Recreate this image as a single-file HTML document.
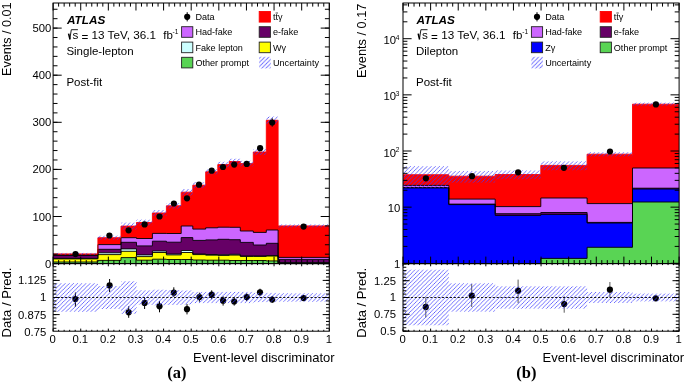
<!DOCTYPE html>
<html><head><meta charset="utf-8"><style>
html,body{margin:0;padding:0;background:#fff;}
svg{display:block;will-change:transform;}
</style></head><body>
<svg width="685" height="382" viewBox="0 0 685 382">
<defs>
<pattern id="hatch" patternUnits="userSpaceOnUse" width="4.15" height="4.15"><path d="M-1,1 L1,-1 M0,4.15 L4.15,0 M3.150,5.150 L5.150,3.150" stroke="#3a3aff" stroke-width="0.8" stroke-opacity="0.9"/></pattern>
<pattern id="hatchLeg" patternUnits="userSpaceOnUse" x="2.2" y="0" width="4.15" height="4.15"><path d="M-1,1 L1,-1 M0,4.15 L4.15,0 M3.150,5.150 L5.150,3.150" stroke="#3a3aff" stroke-width="0.85" stroke-opacity="0.8"/></pattern>
</defs>
<rect width="685" height="382" fill="#fff"/>
<path d="M53.10,263.6 L53.10,253.90 L97.90,253.90 L97.90,237.70 L121.00,237.70 L121.00,226.10 L136.50,226.10 L136.50,222.50 L152.40,222.50 L152.40,213.00 L166.40,213.00 L166.40,205.80 L181.20,205.80 L181.20,192.20 L192.80,192.20 L192.80,185.20 L205.70,185.20 L205.70,171.80 L217.80,171.80 L217.80,164.60 L229.30,164.60 L229.30,161.50 L240.30,161.50 L240.30,163.60 L253.30,163.60 L253.30,152.00 L266.30,152.00 L266.30,120.30 L278.10,120.30 L278.10,225.90 L329.30,225.90 L329.30,263.6 Z" fill="#ff0000" stroke="none"/>
<path d="M53.10,263.6 L53.10,255.20 L97.90,255.20 L97.90,244.60 L121.00,244.60 L121.00,237.70 L136.50,237.70 L136.50,238.50 L152.40,238.50 L152.40,233.40 L166.40,233.40 L166.40,233.50 L181.20,233.50 L181.20,226.00 L192.80,226.00 L192.80,229.10 L205.70,229.10 L205.70,227.80 L217.80,227.80 L217.80,227.20 L229.30,227.20 L229.30,227.30 L240.30,227.30 L240.30,231.00 L253.30,231.00 L253.30,232.40 L266.30,232.40 L266.30,230.00 L278.10,230.00 L278.10,257.40 L329.30,257.40 L329.30,263.6 Z" fill="#cc66ff" stroke="none"/>
<path d="M53.10,263.6 L53.10,255.30 L97.90,255.30 L97.90,249.30 L121.00,249.30 L121.00,242.30 L136.50,242.30 L136.50,245.90 L152.40,245.90 L152.40,241.20 L166.40,241.20 L166.40,242.20 L181.20,242.20 L181.20,237.60 L192.80,237.60 L192.80,240.40 L205.70,240.40 L205.70,239.90 L217.80,239.90 L217.80,239.30 L229.30,239.30 L229.30,239.70 L240.30,239.70 L240.30,242.40 L253.30,242.40 L253.30,245.00 L266.30,245.00 L266.30,243.30 L278.10,243.30 L278.10,259.40 L329.30,259.40 L329.30,263.6 Z" fill="#660066" stroke="none"/>
<path d="M53.10,263.6 L53.10,258.40 L97.90,258.40 L97.90,252.80 L121.00,252.80 L121.00,248.90 L136.50,248.90 L136.50,254.90 L152.40,254.90 L152.40,251.00 L166.40,251.00 L166.40,254.00 L181.20,254.00 L181.20,250.50 L192.80,250.50 L192.80,254.00 L205.70,254.00 L205.70,254.50 L217.80,254.50 L217.80,254.80 L229.30,254.80 L229.30,254.30 L240.30,254.30 L240.30,256.00 L253.30,256.00 L253.30,256.00 L266.30,256.00 L266.30,255.60 L278.10,255.60 L278.10,262.60 L329.30,262.60 L329.30,263.6 Z" fill="#ccffff" stroke="none"/>
<path d="M53.10,263.6 L53.10,258.90 L97.90,258.90 L97.90,254.60 L121.00,254.60 L121.00,251.30 L136.50,251.30 L136.50,256.60 L152.40,256.60 L152.40,252.50 L166.40,252.50 L166.40,254.90 L181.20,254.90 L181.20,252.50 L192.80,252.50 L192.80,254.60 L205.70,254.60 L205.70,255.20 L217.80,255.20 L217.80,255.40 L229.30,255.40 L229.30,255.10 L240.30,255.10 L240.30,256.40 L253.30,256.40 L253.30,256.40 L266.30,256.40 L266.30,256.00 L278.10,256.00 L278.10,263.00 L329.30,263.00 L329.30,263.6 Z" fill="#ffff00" stroke="none"/>
<path d="M53.10,263.6 L53.10,262.00 L97.90,262.00 L97.90,260.40 L121.00,260.40 L121.00,257.60 L136.50,257.60 L136.50,260.20 L152.40,260.20 L152.40,259.20 L166.40,259.20 L166.40,259.50 L181.20,259.50 L181.20,259.50 L192.80,259.50 L192.80,260.00 L205.70,260.00 L205.70,260.20 L217.80,260.20 L217.80,260.20 L229.30,260.20 L229.30,260.50 L240.30,260.50 L240.30,260.50 L253.30,260.50 L253.30,260.50 L266.30,260.50 L266.30,260.90 L278.10,260.90 L278.10,263.60 L329.30,263.60 L329.30,263.6 Z" fill="#59d454" stroke="none"/>
<path d="M53.10,262.00 L97.90,262.00 L97.90,260.40 L121.00,260.40 L121.00,257.60 L136.50,257.60 L136.50,260.20 L152.40,260.20 L152.40,259.20 L166.40,259.20 L166.40,259.50 L181.20,259.50 L181.20,259.50 L192.80,259.50 L192.80,260.00 L205.70,260.00 L205.70,260.20 L217.80,260.20 L217.80,260.20 L229.30,260.20 L229.30,260.50 L240.30,260.50 L240.30,260.50 L253.30,260.50 L253.30,260.50 L266.30,260.50 L266.30,260.90 L278.10,260.90 L278.10,263.60 L329.30,263.60" fill="none" stroke="#000" stroke-width="0.9"/>
<path d="M53.10,258.90 L97.90,258.90 L97.90,254.60 L121.00,254.60 L121.00,251.30 L136.50,251.30 L136.50,256.60 L152.40,256.60 L152.40,252.50 L166.40,252.50 L166.40,254.90 L181.20,254.90 L181.20,252.50 L192.80,252.50 L192.80,254.60 L205.70,254.60 L205.70,255.20 L217.80,255.20 L217.80,255.40 L229.30,255.40 L229.30,255.10 L240.30,255.10 L240.30,256.40 L253.30,256.40 L253.30,256.40 L266.30,256.40 L266.30,256.00 L278.10,256.00 L278.10,263.00 L329.30,263.00" fill="none" stroke="#000" stroke-width="0.9"/>
<path d="M53.10,258.40 L97.90,258.40 L97.90,252.80 L121.00,252.80 L121.00,248.90 L136.50,248.90 L136.50,254.90 L152.40,254.90 L152.40,251.00 L166.40,251.00 L166.40,254.00 L181.20,254.00 L181.20,250.50 L192.80,250.50 L192.80,254.00 L205.70,254.00 L205.70,254.50 L217.80,254.50 L217.80,254.80 L229.30,254.80 L229.30,254.30 L240.30,254.30 L240.30,256.00 L253.30,256.00 L253.30,256.00 L266.30,256.00 L266.30,255.60 L278.10,255.60 L278.10,262.60 L329.30,262.60" fill="none" stroke="#000" stroke-width="0.9"/>
<path d="M53.10,255.30 L97.90,255.30 L97.90,249.30 L121.00,249.30 L121.00,242.30 L136.50,242.30 L136.50,245.90 L152.40,245.90 L152.40,241.20 L166.40,241.20 L166.40,242.20 L181.20,242.20 L181.20,237.60 L192.80,237.60 L192.80,240.40 L205.70,240.40 L205.70,239.90 L217.80,239.90 L217.80,239.30 L229.30,239.30 L229.30,239.70 L240.30,239.70 L240.30,242.40 L253.30,242.40 L253.30,245.00 L266.30,245.00 L266.30,243.30 L278.10,243.30 L278.10,259.40 L329.30,259.40" fill="none" stroke="#000" stroke-width="0.9"/>
<path d="M53.10,255.20 L97.90,255.20 L97.90,244.60 L121.00,244.60 L121.00,237.70 L136.50,237.70 L136.50,238.50 L152.40,238.50 L152.40,233.40 L166.40,233.40 L166.40,233.50 L181.20,233.50 L181.20,226.00 L192.80,226.00 L192.80,229.10 L205.70,229.10 L205.70,227.80 L217.80,227.80 L217.80,227.20 L229.30,227.20 L229.30,227.30 L240.30,227.30 L240.30,231.00 L253.30,231.00 L253.30,232.40 L266.30,232.40 L266.30,230.00 L278.10,230.00 L278.10,257.40 L329.30,257.40" fill="none" stroke="#000" stroke-width="0.9"/>
<path d="M53.10,253.90 L97.90,253.90 L97.90,237.70 L121.00,237.70 L121.00,226.10 L136.50,226.10 L136.50,222.50 L152.40,222.50 L152.40,213.00 L166.40,213.00 L166.40,205.80 L181.20,205.80 L181.20,192.20 L192.80,192.20 L192.80,185.20 L205.70,185.20 L205.70,171.80 L217.80,171.80 L217.80,164.60 L229.30,164.60 L229.30,161.50 L240.30,161.50 L240.30,163.60 L253.30,163.60 L253.30,152.00 L266.30,152.00 L266.30,120.30 L278.10,120.30 L278.10,225.90 L329.30,225.90" fill="none" stroke="#ff0000" stroke-width="0.9"/>
<rect x="53.10" y="252.90" width="44.80" height="2.00" fill="url(#hatch)"/>
<rect x="97.90" y="235.70" width="23.10" height="4.00" fill="url(#hatch)"/>
<rect x="121.00" y="222.60" width="15.50" height="7.00" fill="url(#hatch)"/>
<rect x="136.50" y="219.70" width="15.90" height="5.60" fill="url(#hatch)"/>
<rect x="152.40" y="210.00" width="14.00" height="6.00" fill="url(#hatch)"/>
<rect x="166.40" y="203.00" width="14.80" height="5.60" fill="url(#hatch)"/>
<rect x="181.20" y="189.00" width="11.60" height="6.40" fill="url(#hatch)"/>
<rect x="192.80" y="182.20" width="12.90" height="6.00" fill="url(#hatch)"/>
<rect x="205.70" y="169.30" width="12.10" height="5.00" fill="url(#hatch)"/>
<rect x="217.80" y="161.80" width="11.50" height="5.60" fill="url(#hatch)"/>
<rect x="229.30" y="158.70" width="11.00" height="5.60" fill="url(#hatch)"/>
<rect x="240.30" y="160.80" width="13.00" height="5.60" fill="url(#hatch)"/>
<rect x="253.30" y="149.00" width="13.00" height="6.00" fill="url(#hatch)"/>
<rect x="266.30" y="116.60" width="11.80" height="7.40" fill="url(#hatch)"/>
<rect x="278.10" y="224.40" width="51.20" height="3.00" fill="url(#hatch)"/>
<circle cx="75.50" cy="254.10" r="3.1" fill="#000"/>
<circle cx="109.40" cy="235.50" r="3.1" fill="#000"/>
<circle cx="128.60" cy="230.30" r="3.1" fill="#000"/>
<circle cx="144.60" cy="224.40" r="3.1" fill="#000"/>
<circle cx="159.50" cy="216.50" r="3.1" fill="#000"/>
<circle cx="173.90" cy="203.50" r="3.1" fill="#000"/>
<circle cx="187.00" cy="198.30" r="3.1" fill="#000"/>
<circle cx="199.00" cy="184.70" r="3.1" fill="#000"/>
<circle cx="211.70" cy="170.70" r="3.1" fill="#000"/>
<circle cx="223.00" cy="167.00" r="3.1" fill="#000"/>
<circle cx="234.20" cy="164.60" r="3.1" fill="#000"/>
<circle cx="246.70" cy="163.90" r="3.1" fill="#000"/>
<circle cx="260.10" cy="148.20" r="3.1" fill="#000"/>
<line x1="272.20" y1="118.30" x2="272.20" y2="126.70" stroke="#000" stroke-width="1" />
<circle cx="272.20" cy="122.50" r="3.1" fill="#000"/>
<circle cx="303.60" cy="226.60" r="3.1" fill="#000"/>
<line x1="75.40" y1="292.50" x2="75.40" y2="306.80" stroke="#000" stroke-width="1" />
<circle cx="75.40" cy="299.10" r="3.1" fill="#000"/>
<line x1="109.60" y1="279.00" x2="109.60" y2="292.00" stroke="#000" stroke-width="1" />
<circle cx="109.60" cy="285.40" r="3.1" fill="#000"/>
<line x1="128.70" y1="306.30" x2="128.70" y2="317.80" stroke="#000" stroke-width="1" />
<circle cx="128.70" cy="312.30" r="3.1" fill="#000"/>
<line x1="144.60" y1="298.10" x2="144.60" y2="309.00" stroke="#000" stroke-width="1" />
<circle cx="144.60" cy="302.90" r="3.1" fill="#000"/>
<line x1="159.50" y1="301.10" x2="159.50" y2="312.30" stroke="#000" stroke-width="1" />
<circle cx="159.50" cy="306.30" r="3.1" fill="#000"/>
<line x1="173.80" y1="287.30" x2="173.80" y2="296.90" stroke="#000" stroke-width="1" />
<circle cx="173.80" cy="292.70" r="3.1" fill="#000"/>
<line x1="187.00" y1="304.10" x2="187.00" y2="314.40" stroke="#000" stroke-width="1" />
<circle cx="187.00" cy="309.20" r="3.1" fill="#000"/>
<line x1="199.40" y1="292.70" x2="199.40" y2="301.70" stroke="#000" stroke-width="1" />
<circle cx="199.40" cy="297.10" r="3.1" fill="#000"/>
<line x1="211.70" y1="290.30" x2="211.70" y2="299.30" stroke="#000" stroke-width="1" />
<circle cx="211.70" cy="294.70" r="3.1" fill="#000"/>
<line x1="223.10" y1="296.30" x2="223.10" y2="305.60" stroke="#000" stroke-width="1" />
<circle cx="223.10" cy="300.70" r="3.1" fill="#000"/>
<line x1="234.20" y1="297.50" x2="234.20" y2="305.60" stroke="#000" stroke-width="1" />
<circle cx="234.20" cy="301.50" r="3.1" fill="#000"/>
<line x1="246.70" y1="293.30" x2="246.70" y2="301.10" stroke="#000" stroke-width="1" />
<circle cx="246.70" cy="297.10" r="3.1" fill="#000"/>
<line x1="260.00" y1="288.70" x2="260.00" y2="295.70" stroke="#000" stroke-width="1" />
<circle cx="260.00" cy="292.30" r="3.1" fill="#000"/>
<line x1="272.20" y1="296.00" x2="272.20" y2="303.00" stroke="#000" stroke-width="1" />
<circle cx="272.20" cy="299.50" r="3.1" fill="#000"/>
<line x1="303.60" y1="295.50" x2="303.60" y2="300.50" stroke="#000" stroke-width="1" />
<circle cx="303.60" cy="298.10" r="3.1" fill="#000"/>
<rect x="53.10" y="283.20" width="44.80" height="28.60" fill="url(#hatch)"/>
<rect x="97.90" y="286.00" width="23.10" height="23.00" fill="url(#hatch)"/>
<rect x="121.00" y="281.20" width="15.50" height="32.60" fill="url(#hatch)"/>
<rect x="136.50" y="290.30" width="15.90" height="14.40" fill="url(#hatch)"/>
<rect x="152.40" y="289.70" width="14.00" height="15.60" fill="url(#hatch)"/>
<rect x="166.40" y="290.00" width="14.80" height="15.00" fill="url(#hatch)"/>
<rect x="181.20" y="290.50" width="11.60" height="14.00" fill="url(#hatch)"/>
<rect x="192.80" y="291.90" width="12.90" height="11.20" fill="url(#hatch)"/>
<rect x="205.70" y="291.90" width="12.10" height="11.20" fill="url(#hatch)"/>
<rect x="217.80" y="291.90" width="11.50" height="11.20" fill="url(#hatch)"/>
<rect x="229.30" y="291.90" width="11.00" height="11.20" fill="url(#hatch)"/>
<rect x="240.30" y="291.90" width="13.00" height="11.20" fill="url(#hatch)"/>
<rect x="253.30" y="292.90" width="13.00" height="9.20" fill="url(#hatch)"/>
<rect x="266.30" y="292.90" width="11.80" height="9.20" fill="url(#hatch)"/>
<rect x="278.10" y="293.30" width="51.20" height="8.40" fill="url(#hatch)"/>
<line x1="53.10" y1="297.50" x2="329.30" y2="297.50" stroke="#000" stroke-width="0.9" stroke-dasharray="2.2,1.7"/>
<path d="M403.00,263.6 L403.00,174.70 L448.80,174.70 L448.80,176.20 L495.20,176.20 L495.20,174.50 L540.80,174.50 L540.80,165.40 L587.10,165.40 L587.10,154.20 L632.50,154.20 L632.50,104.20 L679.10,104.20 L679.10,263.6 Z" fill="#ff0000" stroke="none"/>
<path d="M403.00,263.6 L403.00,185.40 L448.80,185.40 L448.80,199.10 L495.20,199.10 L495.20,206.60 L540.80,206.60 L540.80,198.00 L587.10,198.00 L587.10,203.60 L632.50,203.60 L632.50,168.00 L679.10,168.00 L679.10,263.6 Z" fill="#cc66ff" stroke="none"/>
<path d="M403.00,263.6 L403.00,187.60 L448.80,187.60 L448.80,204.10 L495.20,204.10 L495.20,213.70 L540.80,213.70 L540.80,212.50 L587.10,212.50 L587.10,222.40 L632.50,222.40 L632.50,188.20 L679.10,188.20 L679.10,263.6 Z" fill="#660066" stroke="none"/>
<path d="M403.00,263.6 L403.00,187.90 L448.80,187.90 L448.80,204.60 L495.20,204.60 L495.20,215.40 L540.80,215.40 L540.80,214.40 L587.10,214.40 L587.10,223.00 L632.50,223.00 L632.50,189.00 L679.10,189.00 L679.10,263.6 Z" fill="#0000ff" stroke="none"/>
<path d="M403.00,263.6 L403.00,263.60 L448.80,263.60 L448.80,263.60 L495.20,263.60 L495.20,263.60 L540.80,263.60 L540.80,258.40 L587.10,258.40 L587.10,247.30 L632.50,247.30 L632.50,202.00 L679.10,202.00 L679.10,263.6 Z" fill="#59d454" stroke="none"/>
<path d="M403.00,263.60 L448.80,263.60 L448.80,263.60 L495.20,263.60 L495.20,263.60 L540.80,263.60 L540.80,258.40 L587.10,258.40 L587.10,247.30 L632.50,247.30 L632.50,202.00 L679.10,202.00" fill="none" stroke="#000" stroke-width="0.9"/>
<path d="M403.00,187.90 L448.80,187.90 L448.80,204.60 L495.20,204.60 L495.20,215.40 L540.80,215.40 L540.80,214.40 L587.10,214.40 L587.10,223.00 L632.50,223.00 L632.50,189.00 L679.10,189.00" fill="none" stroke="#000" stroke-width="0.9"/>
<path d="M403.00,187.60 L448.80,187.60 L448.80,204.10 L495.20,204.10 L495.20,213.70 L540.80,213.70 L540.80,212.50 L587.10,212.50 L587.10,222.40 L632.50,222.40 L632.50,188.20 L679.10,188.20" fill="none" stroke="#000" stroke-width="0.9"/>
<path d="M403.00,185.40 L448.80,185.40 L448.80,199.10 L495.20,199.10 L495.20,206.60 L540.80,206.60 L540.80,198.00 L587.10,198.00 L587.10,203.60 L632.50,203.60 L632.50,168.00 L679.10,168.00" fill="none" stroke="#000" stroke-width="0.9"/>
<path d="M403.00,174.70 L448.80,174.70 L448.80,176.20 L495.20,176.20 L495.20,174.50 L540.80,174.50 L540.80,165.40 L587.10,165.40 L587.10,154.20 L632.50,154.20 L632.50,104.20 L679.10,104.20" fill="none" stroke="#ff0000" stroke-width="0.9"/>
<rect x="403.00" y="166.20" width="45.80" height="21.66" fill="url(#hatch)"/>
<rect x="448.80" y="171.10" width="46.40" height="11.56" fill="url(#hatch)"/>
<rect x="495.20" y="170.50" width="45.60" height="8.79" fill="url(#hatch)"/>
<rect x="540.80" y="161.40" width="46.30" height="8.79" fill="url(#hatch)"/>
<rect x="587.10" y="152.20" width="45.40" height="4.18" fill="url(#hatch)"/>
<rect x="632.50" y="102.70" width="46.60" height="3.10" fill="url(#hatch)"/>
<circle cx="425.90" cy="178.30" r="3.1" fill="#000"/>
<circle cx="472.00" cy="176.20" r="3.1" fill="#000"/>
<circle cx="518.10" cy="172.30" r="3.1" fill="#000"/>
<circle cx="563.90" cy="167.80" r="3.1" fill="#000"/>
<circle cx="610.00" cy="151.50" r="3.1" fill="#000"/>
<circle cx="655.90" cy="104.40" r="3.1" fill="#000"/>
<line x1="425.80" y1="297.40" x2="425.80" y2="317.40" stroke="#5a5a5a" stroke-width="1" />
<line x1="471.70" y1="284.00" x2="471.70" y2="307.00" stroke="#5a5a5a" stroke-width="1" />
<line x1="518.10" y1="279.60" x2="518.10" y2="303.10" stroke="#5a5a5a" stroke-width="1" />
<line x1="564.20" y1="296.40" x2="564.20" y2="312.70" stroke="#5a5a5a" stroke-width="1" />
<line x1="609.90" y1="282.00" x2="609.90" y2="297.40" stroke="#5a5a5a" stroke-width="1" />
<line x1="655.70" y1="296.00" x2="655.70" y2="300.50" stroke="#5a5a5a" stroke-width="1" />
<circle cx="425.80" cy="306.90" r="3.1" fill="#000"/>
<circle cx="471.70" cy="295.50" r="3.1" fill="#000"/>
<circle cx="518.10" cy="290.70" r="3.1" fill="#000"/>
<circle cx="564.20" cy="304.10" r="3.1" fill="#000"/>
<circle cx="609.90" cy="289.70" r="3.1" fill="#000"/>
<circle cx="655.70" cy="298.30" r="3.1" fill="#000"/>
<rect x="403.00" y="269.70" width="45.80" height="55.60" fill="url(#hatch)"/>
<rect x="448.80" y="283.30" width="46.40" height="28.40" fill="url(#hatch)"/>
<rect x="495.20" y="286.30" width="45.60" height="22.40" fill="url(#hatch)"/>
<rect x="540.80" y="286.30" width="46.30" height="22.40" fill="url(#hatch)"/>
<rect x="587.10" y="292.00" width="45.40" height="11.00" fill="url(#hatch)"/>
<rect x="632.50" y="293.60" width="46.60" height="7.80" fill="url(#hatch)"/>
<line x1="403.00" y1="297.50" x2="679.10" y2="297.50" stroke="#000" stroke-width="0.9" stroke-dasharray="2.2,1.7"/>
<rect x="53.1" y="3.0" width="276.20" height="260.60" fill="none" stroke="#000" stroke-width="1"/>
<rect x="53.1" y="263.6" width="276.20" height="67.60" fill="none" stroke="#000" stroke-width="1"/>
<line x1="53.10" y1="3.00" x2="53.10" y2="10.50" stroke="#000" stroke-width="1" />
<line x1="53.10" y1="263.60" x2="53.10" y2="256.60" stroke="#000" stroke-width="1" />
<line x1="53.10" y1="263.60" x2="53.10" y2="266.30" stroke="#000" stroke-width="1" />
<line x1="53.10" y1="331.20" x2="53.10" y2="328.60" stroke="#000" stroke-width="1" />
<line x1="58.62" y1="3.00" x2="58.62" y2="6.60" stroke="#000" stroke-width="1" />
<line x1="58.62" y1="263.60" x2="58.62" y2="260.10" stroke="#000" stroke-width="1" />
<line x1="58.62" y1="263.60" x2="58.62" y2="265.10" stroke="#000" stroke-width="1" />
<line x1="58.62" y1="331.20" x2="58.62" y2="329.80" stroke="#000" stroke-width="1" />
<line x1="64.15" y1="3.00" x2="64.15" y2="6.60" stroke="#000" stroke-width="1" />
<line x1="64.15" y1="263.60" x2="64.15" y2="260.10" stroke="#000" stroke-width="1" />
<line x1="64.15" y1="263.60" x2="64.15" y2="265.10" stroke="#000" stroke-width="1" />
<line x1="64.15" y1="331.20" x2="64.15" y2="329.80" stroke="#000" stroke-width="1" />
<line x1="69.67" y1="3.00" x2="69.67" y2="6.60" stroke="#000" stroke-width="1" />
<line x1="69.67" y1="263.60" x2="69.67" y2="260.10" stroke="#000" stroke-width="1" />
<line x1="69.67" y1="263.60" x2="69.67" y2="265.10" stroke="#000" stroke-width="1" />
<line x1="69.67" y1="331.20" x2="69.67" y2="329.80" stroke="#000" stroke-width="1" />
<line x1="75.20" y1="3.00" x2="75.20" y2="6.60" stroke="#000" stroke-width="1" />
<line x1="75.20" y1="263.60" x2="75.20" y2="260.10" stroke="#000" stroke-width="1" />
<line x1="75.20" y1="263.60" x2="75.20" y2="265.10" stroke="#000" stroke-width="1" />
<line x1="75.20" y1="331.20" x2="75.20" y2="329.80" stroke="#000" stroke-width="1" />
<line x1="80.72" y1="3.00" x2="80.72" y2="10.50" stroke="#000" stroke-width="1" />
<line x1="80.72" y1="263.60" x2="80.72" y2="256.60" stroke="#000" stroke-width="1" />
<line x1="80.72" y1="263.60" x2="80.72" y2="266.30" stroke="#000" stroke-width="1" />
<line x1="80.72" y1="331.20" x2="80.72" y2="328.60" stroke="#000" stroke-width="1" />
<line x1="86.24" y1="3.00" x2="86.24" y2="6.60" stroke="#000" stroke-width="1" />
<line x1="86.24" y1="263.60" x2="86.24" y2="260.10" stroke="#000" stroke-width="1" />
<line x1="86.24" y1="263.60" x2="86.24" y2="265.10" stroke="#000" stroke-width="1" />
<line x1="86.24" y1="331.20" x2="86.24" y2="329.80" stroke="#000" stroke-width="1" />
<line x1="91.77" y1="3.00" x2="91.77" y2="6.60" stroke="#000" stroke-width="1" />
<line x1="91.77" y1="263.60" x2="91.77" y2="260.10" stroke="#000" stroke-width="1" />
<line x1="91.77" y1="263.60" x2="91.77" y2="265.10" stroke="#000" stroke-width="1" />
<line x1="91.77" y1="331.20" x2="91.77" y2="329.80" stroke="#000" stroke-width="1" />
<line x1="97.29" y1="3.00" x2="97.29" y2="6.60" stroke="#000" stroke-width="1" />
<line x1="97.29" y1="263.60" x2="97.29" y2="260.10" stroke="#000" stroke-width="1" />
<line x1="97.29" y1="263.60" x2="97.29" y2="265.10" stroke="#000" stroke-width="1" />
<line x1="97.29" y1="331.20" x2="97.29" y2="329.80" stroke="#000" stroke-width="1" />
<line x1="102.82" y1="3.00" x2="102.82" y2="6.60" stroke="#000" stroke-width="1" />
<line x1="102.82" y1="263.60" x2="102.82" y2="260.10" stroke="#000" stroke-width="1" />
<line x1="102.82" y1="263.60" x2="102.82" y2="265.10" stroke="#000" stroke-width="1" />
<line x1="102.82" y1="331.20" x2="102.82" y2="329.80" stroke="#000" stroke-width="1" />
<line x1="108.34" y1="3.00" x2="108.34" y2="10.50" stroke="#000" stroke-width="1" />
<line x1="108.34" y1="263.60" x2="108.34" y2="256.60" stroke="#000" stroke-width="1" />
<line x1="108.34" y1="263.60" x2="108.34" y2="266.30" stroke="#000" stroke-width="1" />
<line x1="108.34" y1="331.20" x2="108.34" y2="328.60" stroke="#000" stroke-width="1" />
<line x1="113.86" y1="3.00" x2="113.86" y2="6.60" stroke="#000" stroke-width="1" />
<line x1="113.86" y1="263.60" x2="113.86" y2="260.10" stroke="#000" stroke-width="1" />
<line x1="113.86" y1="263.60" x2="113.86" y2="265.10" stroke="#000" stroke-width="1" />
<line x1="113.86" y1="331.20" x2="113.86" y2="329.80" stroke="#000" stroke-width="1" />
<line x1="119.39" y1="3.00" x2="119.39" y2="6.60" stroke="#000" stroke-width="1" />
<line x1="119.39" y1="263.60" x2="119.39" y2="260.10" stroke="#000" stroke-width="1" />
<line x1="119.39" y1="263.60" x2="119.39" y2="265.10" stroke="#000" stroke-width="1" />
<line x1="119.39" y1="331.20" x2="119.39" y2="329.80" stroke="#000" stroke-width="1" />
<line x1="124.91" y1="3.00" x2="124.91" y2="6.60" stroke="#000" stroke-width="1" />
<line x1="124.91" y1="263.60" x2="124.91" y2="260.10" stroke="#000" stroke-width="1" />
<line x1="124.91" y1="263.60" x2="124.91" y2="265.10" stroke="#000" stroke-width="1" />
<line x1="124.91" y1="331.20" x2="124.91" y2="329.80" stroke="#000" stroke-width="1" />
<line x1="130.44" y1="3.00" x2="130.44" y2="6.60" stroke="#000" stroke-width="1" />
<line x1="130.44" y1="263.60" x2="130.44" y2="260.10" stroke="#000" stroke-width="1" />
<line x1="130.44" y1="263.60" x2="130.44" y2="265.10" stroke="#000" stroke-width="1" />
<line x1="130.44" y1="331.20" x2="130.44" y2="329.80" stroke="#000" stroke-width="1" />
<line x1="135.96" y1="3.00" x2="135.96" y2="10.50" stroke="#000" stroke-width="1" />
<line x1="135.96" y1="263.60" x2="135.96" y2="256.60" stroke="#000" stroke-width="1" />
<line x1="135.96" y1="263.60" x2="135.96" y2="266.30" stroke="#000" stroke-width="1" />
<line x1="135.96" y1="331.20" x2="135.96" y2="328.60" stroke="#000" stroke-width="1" />
<line x1="141.48" y1="3.00" x2="141.48" y2="6.60" stroke="#000" stroke-width="1" />
<line x1="141.48" y1="263.60" x2="141.48" y2="260.10" stroke="#000" stroke-width="1" />
<line x1="141.48" y1="263.60" x2="141.48" y2="265.10" stroke="#000" stroke-width="1" />
<line x1="141.48" y1="331.20" x2="141.48" y2="329.80" stroke="#000" stroke-width="1" />
<line x1="147.01" y1="3.00" x2="147.01" y2="6.60" stroke="#000" stroke-width="1" />
<line x1="147.01" y1="263.60" x2="147.01" y2="260.10" stroke="#000" stroke-width="1" />
<line x1="147.01" y1="263.60" x2="147.01" y2="265.10" stroke="#000" stroke-width="1" />
<line x1="147.01" y1="331.20" x2="147.01" y2="329.80" stroke="#000" stroke-width="1" />
<line x1="152.53" y1="3.00" x2="152.53" y2="6.60" stroke="#000" stroke-width="1" />
<line x1="152.53" y1="263.60" x2="152.53" y2="260.10" stroke="#000" stroke-width="1" />
<line x1="152.53" y1="263.60" x2="152.53" y2="265.10" stroke="#000" stroke-width="1" />
<line x1="152.53" y1="331.20" x2="152.53" y2="329.80" stroke="#000" stroke-width="1" />
<line x1="158.06" y1="3.00" x2="158.06" y2="6.60" stroke="#000" stroke-width="1" />
<line x1="158.06" y1="263.60" x2="158.06" y2="260.10" stroke="#000" stroke-width="1" />
<line x1="158.06" y1="263.60" x2="158.06" y2="265.10" stroke="#000" stroke-width="1" />
<line x1="158.06" y1="331.20" x2="158.06" y2="329.80" stroke="#000" stroke-width="1" />
<line x1="163.58" y1="3.00" x2="163.58" y2="10.50" stroke="#000" stroke-width="1" />
<line x1="163.58" y1="263.60" x2="163.58" y2="256.60" stroke="#000" stroke-width="1" />
<line x1="163.58" y1="263.60" x2="163.58" y2="266.30" stroke="#000" stroke-width="1" />
<line x1="163.58" y1="331.20" x2="163.58" y2="328.60" stroke="#000" stroke-width="1" />
<line x1="169.10" y1="3.00" x2="169.10" y2="6.60" stroke="#000" stroke-width="1" />
<line x1="169.10" y1="263.60" x2="169.10" y2="260.10" stroke="#000" stroke-width="1" />
<line x1="169.10" y1="263.60" x2="169.10" y2="265.10" stroke="#000" stroke-width="1" />
<line x1="169.10" y1="331.20" x2="169.10" y2="329.80" stroke="#000" stroke-width="1" />
<line x1="174.63" y1="3.00" x2="174.63" y2="6.60" stroke="#000" stroke-width="1" />
<line x1="174.63" y1="263.60" x2="174.63" y2="260.10" stroke="#000" stroke-width="1" />
<line x1="174.63" y1="263.60" x2="174.63" y2="265.10" stroke="#000" stroke-width="1" />
<line x1="174.63" y1="331.20" x2="174.63" y2="329.80" stroke="#000" stroke-width="1" />
<line x1="180.15" y1="3.00" x2="180.15" y2="6.60" stroke="#000" stroke-width="1" />
<line x1="180.15" y1="263.60" x2="180.15" y2="260.10" stroke="#000" stroke-width="1" />
<line x1="180.15" y1="263.60" x2="180.15" y2="265.10" stroke="#000" stroke-width="1" />
<line x1="180.15" y1="331.20" x2="180.15" y2="329.80" stroke="#000" stroke-width="1" />
<line x1="185.68" y1="3.00" x2="185.68" y2="6.60" stroke="#000" stroke-width="1" />
<line x1="185.68" y1="263.60" x2="185.68" y2="260.10" stroke="#000" stroke-width="1" />
<line x1="185.68" y1="263.60" x2="185.68" y2="265.10" stroke="#000" stroke-width="1" />
<line x1="185.68" y1="331.20" x2="185.68" y2="329.80" stroke="#000" stroke-width="1" />
<line x1="191.20" y1="3.00" x2="191.20" y2="10.50" stroke="#000" stroke-width="1" />
<line x1="191.20" y1="263.60" x2="191.20" y2="256.60" stroke="#000" stroke-width="1" />
<line x1="191.20" y1="263.60" x2="191.20" y2="266.30" stroke="#000" stroke-width="1" />
<line x1="191.20" y1="331.20" x2="191.20" y2="328.60" stroke="#000" stroke-width="1" />
<line x1="196.72" y1="3.00" x2="196.72" y2="6.60" stroke="#000" stroke-width="1" />
<line x1="196.72" y1="263.60" x2="196.72" y2="260.10" stroke="#000" stroke-width="1" />
<line x1="196.72" y1="263.60" x2="196.72" y2="265.10" stroke="#000" stroke-width="1" />
<line x1="196.72" y1="331.20" x2="196.72" y2="329.80" stroke="#000" stroke-width="1" />
<line x1="202.25" y1="3.00" x2="202.25" y2="6.60" stroke="#000" stroke-width="1" />
<line x1="202.25" y1="263.60" x2="202.25" y2="260.10" stroke="#000" stroke-width="1" />
<line x1="202.25" y1="263.60" x2="202.25" y2="265.10" stroke="#000" stroke-width="1" />
<line x1="202.25" y1="331.20" x2="202.25" y2="329.80" stroke="#000" stroke-width="1" />
<line x1="207.77" y1="3.00" x2="207.77" y2="6.60" stroke="#000" stroke-width="1" />
<line x1="207.77" y1="263.60" x2="207.77" y2="260.10" stroke="#000" stroke-width="1" />
<line x1="207.77" y1="263.60" x2="207.77" y2="265.10" stroke="#000" stroke-width="1" />
<line x1="207.77" y1="331.20" x2="207.77" y2="329.80" stroke="#000" stroke-width="1" />
<line x1="213.30" y1="3.00" x2="213.30" y2="6.60" stroke="#000" stroke-width="1" />
<line x1="213.30" y1="263.60" x2="213.30" y2="260.10" stroke="#000" stroke-width="1" />
<line x1="213.30" y1="263.60" x2="213.30" y2="265.10" stroke="#000" stroke-width="1" />
<line x1="213.30" y1="331.20" x2="213.30" y2="329.80" stroke="#000" stroke-width="1" />
<line x1="218.82" y1="3.00" x2="218.82" y2="10.50" stroke="#000" stroke-width="1" />
<line x1="218.82" y1="263.60" x2="218.82" y2="256.60" stroke="#000" stroke-width="1" />
<line x1="218.82" y1="263.60" x2="218.82" y2="266.30" stroke="#000" stroke-width="1" />
<line x1="218.82" y1="331.20" x2="218.82" y2="328.60" stroke="#000" stroke-width="1" />
<line x1="224.34" y1="3.00" x2="224.34" y2="6.60" stroke="#000" stroke-width="1" />
<line x1="224.34" y1="263.60" x2="224.34" y2="260.10" stroke="#000" stroke-width="1" />
<line x1="224.34" y1="263.60" x2="224.34" y2="265.10" stroke="#000" stroke-width="1" />
<line x1="224.34" y1="331.20" x2="224.34" y2="329.80" stroke="#000" stroke-width="1" />
<line x1="229.87" y1="3.00" x2="229.87" y2="6.60" stroke="#000" stroke-width="1" />
<line x1="229.87" y1="263.60" x2="229.87" y2="260.10" stroke="#000" stroke-width="1" />
<line x1="229.87" y1="263.60" x2="229.87" y2="265.10" stroke="#000" stroke-width="1" />
<line x1="229.87" y1="331.20" x2="229.87" y2="329.80" stroke="#000" stroke-width="1" />
<line x1="235.39" y1="3.00" x2="235.39" y2="6.60" stroke="#000" stroke-width="1" />
<line x1="235.39" y1="263.60" x2="235.39" y2="260.10" stroke="#000" stroke-width="1" />
<line x1="235.39" y1="263.60" x2="235.39" y2="265.10" stroke="#000" stroke-width="1" />
<line x1="235.39" y1="331.20" x2="235.39" y2="329.80" stroke="#000" stroke-width="1" />
<line x1="240.92" y1="3.00" x2="240.92" y2="6.60" stroke="#000" stroke-width="1" />
<line x1="240.92" y1="263.60" x2="240.92" y2="260.10" stroke="#000" stroke-width="1" />
<line x1="240.92" y1="263.60" x2="240.92" y2="265.10" stroke="#000" stroke-width="1" />
<line x1="240.92" y1="331.20" x2="240.92" y2="329.80" stroke="#000" stroke-width="1" />
<line x1="246.44" y1="3.00" x2="246.44" y2="10.50" stroke="#000" stroke-width="1" />
<line x1="246.44" y1="263.60" x2="246.44" y2="256.60" stroke="#000" stroke-width="1" />
<line x1="246.44" y1="263.60" x2="246.44" y2="266.30" stroke="#000" stroke-width="1" />
<line x1="246.44" y1="331.20" x2="246.44" y2="328.60" stroke="#000" stroke-width="1" />
<line x1="251.96" y1="3.00" x2="251.96" y2="6.60" stroke="#000" stroke-width="1" />
<line x1="251.96" y1="263.60" x2="251.96" y2="260.10" stroke="#000" stroke-width="1" />
<line x1="251.96" y1="263.60" x2="251.96" y2="265.10" stroke="#000" stroke-width="1" />
<line x1="251.96" y1="331.20" x2="251.96" y2="329.80" stroke="#000" stroke-width="1" />
<line x1="257.49" y1="3.00" x2="257.49" y2="6.60" stroke="#000" stroke-width="1" />
<line x1="257.49" y1="263.60" x2="257.49" y2="260.10" stroke="#000" stroke-width="1" />
<line x1="257.49" y1="263.60" x2="257.49" y2="265.10" stroke="#000" stroke-width="1" />
<line x1="257.49" y1="331.20" x2="257.49" y2="329.80" stroke="#000" stroke-width="1" />
<line x1="263.01" y1="3.00" x2="263.01" y2="6.60" stroke="#000" stroke-width="1" />
<line x1="263.01" y1="263.60" x2="263.01" y2="260.10" stroke="#000" stroke-width="1" />
<line x1="263.01" y1="263.60" x2="263.01" y2="265.10" stroke="#000" stroke-width="1" />
<line x1="263.01" y1="331.20" x2="263.01" y2="329.80" stroke="#000" stroke-width="1" />
<line x1="268.54" y1="3.00" x2="268.54" y2="6.60" stroke="#000" stroke-width="1" />
<line x1="268.54" y1="263.60" x2="268.54" y2="260.10" stroke="#000" stroke-width="1" />
<line x1="268.54" y1="263.60" x2="268.54" y2="265.10" stroke="#000" stroke-width="1" />
<line x1="268.54" y1="331.20" x2="268.54" y2="329.80" stroke="#000" stroke-width="1" />
<line x1="274.06" y1="3.00" x2="274.06" y2="10.50" stroke="#000" stroke-width="1" />
<line x1="274.06" y1="263.60" x2="274.06" y2="256.60" stroke="#000" stroke-width="1" />
<line x1="274.06" y1="263.60" x2="274.06" y2="266.30" stroke="#000" stroke-width="1" />
<line x1="274.06" y1="331.20" x2="274.06" y2="328.60" stroke="#000" stroke-width="1" />
<line x1="279.58" y1="3.00" x2="279.58" y2="6.60" stroke="#000" stroke-width="1" />
<line x1="279.58" y1="263.60" x2="279.58" y2="260.10" stroke="#000" stroke-width="1" />
<line x1="279.58" y1="263.60" x2="279.58" y2="265.10" stroke="#000" stroke-width="1" />
<line x1="279.58" y1="331.20" x2="279.58" y2="329.80" stroke="#000" stroke-width="1" />
<line x1="285.11" y1="3.00" x2="285.11" y2="6.60" stroke="#000" stroke-width="1" />
<line x1="285.11" y1="263.60" x2="285.11" y2="260.10" stroke="#000" stroke-width="1" />
<line x1="285.11" y1="263.60" x2="285.11" y2="265.10" stroke="#000" stroke-width="1" />
<line x1="285.11" y1="331.20" x2="285.11" y2="329.80" stroke="#000" stroke-width="1" />
<line x1="290.63" y1="3.00" x2="290.63" y2="6.60" stroke="#000" stroke-width="1" />
<line x1="290.63" y1="263.60" x2="290.63" y2="260.10" stroke="#000" stroke-width="1" />
<line x1="290.63" y1="263.60" x2="290.63" y2="265.10" stroke="#000" stroke-width="1" />
<line x1="290.63" y1="331.20" x2="290.63" y2="329.80" stroke="#000" stroke-width="1" />
<line x1="296.16" y1="3.00" x2="296.16" y2="6.60" stroke="#000" stroke-width="1" />
<line x1="296.16" y1="263.60" x2="296.16" y2="260.10" stroke="#000" stroke-width="1" />
<line x1="296.16" y1="263.60" x2="296.16" y2="265.10" stroke="#000" stroke-width="1" />
<line x1="296.16" y1="331.20" x2="296.16" y2="329.80" stroke="#000" stroke-width="1" />
<line x1="301.68" y1="3.00" x2="301.68" y2="10.50" stroke="#000" stroke-width="1" />
<line x1="301.68" y1="263.60" x2="301.68" y2="256.60" stroke="#000" stroke-width="1" />
<line x1="301.68" y1="263.60" x2="301.68" y2="266.30" stroke="#000" stroke-width="1" />
<line x1="301.68" y1="331.20" x2="301.68" y2="328.60" stroke="#000" stroke-width="1" />
<line x1="307.20" y1="3.00" x2="307.20" y2="6.60" stroke="#000" stroke-width="1" />
<line x1="307.20" y1="263.60" x2="307.20" y2="260.10" stroke="#000" stroke-width="1" />
<line x1="307.20" y1="263.60" x2="307.20" y2="265.10" stroke="#000" stroke-width="1" />
<line x1="307.20" y1="331.20" x2="307.20" y2="329.80" stroke="#000" stroke-width="1" />
<line x1="312.73" y1="3.00" x2="312.73" y2="6.60" stroke="#000" stroke-width="1" />
<line x1="312.73" y1="263.60" x2="312.73" y2="260.10" stroke="#000" stroke-width="1" />
<line x1="312.73" y1="263.60" x2="312.73" y2="265.10" stroke="#000" stroke-width="1" />
<line x1="312.73" y1="331.20" x2="312.73" y2="329.80" stroke="#000" stroke-width="1" />
<line x1="318.25" y1="3.00" x2="318.25" y2="6.60" stroke="#000" stroke-width="1" />
<line x1="318.25" y1="263.60" x2="318.25" y2="260.10" stroke="#000" stroke-width="1" />
<line x1="318.25" y1="263.60" x2="318.25" y2="265.10" stroke="#000" stroke-width="1" />
<line x1="318.25" y1="331.20" x2="318.25" y2="329.80" stroke="#000" stroke-width="1" />
<line x1="323.78" y1="3.00" x2="323.78" y2="6.60" stroke="#000" stroke-width="1" />
<line x1="323.78" y1="263.60" x2="323.78" y2="260.10" stroke="#000" stroke-width="1" />
<line x1="323.78" y1="263.60" x2="323.78" y2="265.10" stroke="#000" stroke-width="1" />
<line x1="323.78" y1="331.20" x2="323.78" y2="329.80" stroke="#000" stroke-width="1" />
<line x1="329.30" y1="3.00" x2="329.30" y2="10.50" stroke="#000" stroke-width="1" />
<line x1="329.30" y1="263.60" x2="329.30" y2="256.60" stroke="#000" stroke-width="1" />
<line x1="329.30" y1="263.60" x2="329.30" y2="266.30" stroke="#000" stroke-width="1" />
<line x1="329.30" y1="331.20" x2="329.30" y2="328.60" stroke="#000" stroke-width="1" />
<rect x="403.0" y="3.0" width="276.10" height="260.60" fill="none" stroke="#000" stroke-width="1"/>
<rect x="403.0" y="263.6" width="276.10" height="67.60" fill="none" stroke="#000" stroke-width="1"/>
<line x1="403.00" y1="3.00" x2="403.00" y2="10.50" stroke="#000" stroke-width="1" />
<line x1="403.00" y1="263.60" x2="403.00" y2="256.60" stroke="#000" stroke-width="1" />
<line x1="403.00" y1="263.60" x2="403.00" y2="266.30" stroke="#000" stroke-width="1" />
<line x1="403.00" y1="331.20" x2="403.00" y2="328.60" stroke="#000" stroke-width="1" />
<line x1="408.52" y1="3.00" x2="408.52" y2="6.60" stroke="#000" stroke-width="1" />
<line x1="408.52" y1="263.60" x2="408.52" y2="260.10" stroke="#000" stroke-width="1" />
<line x1="408.52" y1="263.60" x2="408.52" y2="265.10" stroke="#000" stroke-width="1" />
<line x1="408.52" y1="331.20" x2="408.52" y2="329.80" stroke="#000" stroke-width="1" />
<line x1="414.04" y1="3.00" x2="414.04" y2="6.60" stroke="#000" stroke-width="1" />
<line x1="414.04" y1="263.60" x2="414.04" y2="260.10" stroke="#000" stroke-width="1" />
<line x1="414.04" y1="263.60" x2="414.04" y2="265.10" stroke="#000" stroke-width="1" />
<line x1="414.04" y1="331.20" x2="414.04" y2="329.80" stroke="#000" stroke-width="1" />
<line x1="419.57" y1="3.00" x2="419.57" y2="6.60" stroke="#000" stroke-width="1" />
<line x1="419.57" y1="263.60" x2="419.57" y2="260.10" stroke="#000" stroke-width="1" />
<line x1="419.57" y1="263.60" x2="419.57" y2="265.10" stroke="#000" stroke-width="1" />
<line x1="419.57" y1="331.20" x2="419.57" y2="329.80" stroke="#000" stroke-width="1" />
<line x1="425.09" y1="3.00" x2="425.09" y2="6.60" stroke="#000" stroke-width="1" />
<line x1="425.09" y1="263.60" x2="425.09" y2="260.10" stroke="#000" stroke-width="1" />
<line x1="425.09" y1="263.60" x2="425.09" y2="265.10" stroke="#000" stroke-width="1" />
<line x1="425.09" y1="331.20" x2="425.09" y2="329.80" stroke="#000" stroke-width="1" />
<line x1="430.61" y1="3.00" x2="430.61" y2="10.50" stroke="#000" stroke-width="1" />
<line x1="430.61" y1="263.60" x2="430.61" y2="256.60" stroke="#000" stroke-width="1" />
<line x1="430.61" y1="263.60" x2="430.61" y2="266.30" stroke="#000" stroke-width="1" />
<line x1="430.61" y1="331.20" x2="430.61" y2="328.60" stroke="#000" stroke-width="1" />
<line x1="436.13" y1="3.00" x2="436.13" y2="6.60" stroke="#000" stroke-width="1" />
<line x1="436.13" y1="263.60" x2="436.13" y2="260.10" stroke="#000" stroke-width="1" />
<line x1="436.13" y1="263.60" x2="436.13" y2="265.10" stroke="#000" stroke-width="1" />
<line x1="436.13" y1="331.20" x2="436.13" y2="329.80" stroke="#000" stroke-width="1" />
<line x1="441.65" y1="3.00" x2="441.65" y2="6.60" stroke="#000" stroke-width="1" />
<line x1="441.65" y1="263.60" x2="441.65" y2="260.10" stroke="#000" stroke-width="1" />
<line x1="441.65" y1="263.60" x2="441.65" y2="265.10" stroke="#000" stroke-width="1" />
<line x1="441.65" y1="331.20" x2="441.65" y2="329.80" stroke="#000" stroke-width="1" />
<line x1="447.18" y1="3.00" x2="447.18" y2="6.60" stroke="#000" stroke-width="1" />
<line x1="447.18" y1="263.60" x2="447.18" y2="260.10" stroke="#000" stroke-width="1" />
<line x1="447.18" y1="263.60" x2="447.18" y2="265.10" stroke="#000" stroke-width="1" />
<line x1="447.18" y1="331.20" x2="447.18" y2="329.80" stroke="#000" stroke-width="1" />
<line x1="452.70" y1="3.00" x2="452.70" y2="6.60" stroke="#000" stroke-width="1" />
<line x1="452.70" y1="263.60" x2="452.70" y2="260.10" stroke="#000" stroke-width="1" />
<line x1="452.70" y1="263.60" x2="452.70" y2="265.10" stroke="#000" stroke-width="1" />
<line x1="452.70" y1="331.20" x2="452.70" y2="329.80" stroke="#000" stroke-width="1" />
<line x1="458.22" y1="3.00" x2="458.22" y2="10.50" stroke="#000" stroke-width="1" />
<line x1="458.22" y1="263.60" x2="458.22" y2="256.60" stroke="#000" stroke-width="1" />
<line x1="458.22" y1="263.60" x2="458.22" y2="266.30" stroke="#000" stroke-width="1" />
<line x1="458.22" y1="331.20" x2="458.22" y2="328.60" stroke="#000" stroke-width="1" />
<line x1="463.74" y1="3.00" x2="463.74" y2="6.60" stroke="#000" stroke-width="1" />
<line x1="463.74" y1="263.60" x2="463.74" y2="260.10" stroke="#000" stroke-width="1" />
<line x1="463.74" y1="263.60" x2="463.74" y2="265.10" stroke="#000" stroke-width="1" />
<line x1="463.74" y1="331.20" x2="463.74" y2="329.80" stroke="#000" stroke-width="1" />
<line x1="469.26" y1="3.00" x2="469.26" y2="6.60" stroke="#000" stroke-width="1" />
<line x1="469.26" y1="263.60" x2="469.26" y2="260.10" stroke="#000" stroke-width="1" />
<line x1="469.26" y1="263.60" x2="469.26" y2="265.10" stroke="#000" stroke-width="1" />
<line x1="469.26" y1="331.20" x2="469.26" y2="329.80" stroke="#000" stroke-width="1" />
<line x1="474.79" y1="3.00" x2="474.79" y2="6.60" stroke="#000" stroke-width="1" />
<line x1="474.79" y1="263.60" x2="474.79" y2="260.10" stroke="#000" stroke-width="1" />
<line x1="474.79" y1="263.60" x2="474.79" y2="265.10" stroke="#000" stroke-width="1" />
<line x1="474.79" y1="331.20" x2="474.79" y2="329.80" stroke="#000" stroke-width="1" />
<line x1="480.31" y1="3.00" x2="480.31" y2="6.60" stroke="#000" stroke-width="1" />
<line x1="480.31" y1="263.60" x2="480.31" y2="260.10" stroke="#000" stroke-width="1" />
<line x1="480.31" y1="263.60" x2="480.31" y2="265.10" stroke="#000" stroke-width="1" />
<line x1="480.31" y1="331.20" x2="480.31" y2="329.80" stroke="#000" stroke-width="1" />
<line x1="485.83" y1="3.00" x2="485.83" y2="10.50" stroke="#000" stroke-width="1" />
<line x1="485.83" y1="263.60" x2="485.83" y2="256.60" stroke="#000" stroke-width="1" />
<line x1="485.83" y1="263.60" x2="485.83" y2="266.30" stroke="#000" stroke-width="1" />
<line x1="485.83" y1="331.20" x2="485.83" y2="328.60" stroke="#000" stroke-width="1" />
<line x1="491.35" y1="3.00" x2="491.35" y2="6.60" stroke="#000" stroke-width="1" />
<line x1="491.35" y1="263.60" x2="491.35" y2="260.10" stroke="#000" stroke-width="1" />
<line x1="491.35" y1="263.60" x2="491.35" y2="265.10" stroke="#000" stroke-width="1" />
<line x1="491.35" y1="331.20" x2="491.35" y2="329.80" stroke="#000" stroke-width="1" />
<line x1="496.87" y1="3.00" x2="496.87" y2="6.60" stroke="#000" stroke-width="1" />
<line x1="496.87" y1="263.60" x2="496.87" y2="260.10" stroke="#000" stroke-width="1" />
<line x1="496.87" y1="263.60" x2="496.87" y2="265.10" stroke="#000" stroke-width="1" />
<line x1="496.87" y1="331.20" x2="496.87" y2="329.80" stroke="#000" stroke-width="1" />
<line x1="502.40" y1="3.00" x2="502.40" y2="6.60" stroke="#000" stroke-width="1" />
<line x1="502.40" y1="263.60" x2="502.40" y2="260.10" stroke="#000" stroke-width="1" />
<line x1="502.40" y1="263.60" x2="502.40" y2="265.10" stroke="#000" stroke-width="1" />
<line x1="502.40" y1="331.20" x2="502.40" y2="329.80" stroke="#000" stroke-width="1" />
<line x1="507.92" y1="3.00" x2="507.92" y2="6.60" stroke="#000" stroke-width="1" />
<line x1="507.92" y1="263.60" x2="507.92" y2="260.10" stroke="#000" stroke-width="1" />
<line x1="507.92" y1="263.60" x2="507.92" y2="265.10" stroke="#000" stroke-width="1" />
<line x1="507.92" y1="331.20" x2="507.92" y2="329.80" stroke="#000" stroke-width="1" />
<line x1="513.44" y1="3.00" x2="513.44" y2="10.50" stroke="#000" stroke-width="1" />
<line x1="513.44" y1="263.60" x2="513.44" y2="256.60" stroke="#000" stroke-width="1" />
<line x1="513.44" y1="263.60" x2="513.44" y2="266.30" stroke="#000" stroke-width="1" />
<line x1="513.44" y1="331.20" x2="513.44" y2="328.60" stroke="#000" stroke-width="1" />
<line x1="518.96" y1="3.00" x2="518.96" y2="6.60" stroke="#000" stroke-width="1" />
<line x1="518.96" y1="263.60" x2="518.96" y2="260.10" stroke="#000" stroke-width="1" />
<line x1="518.96" y1="263.60" x2="518.96" y2="265.10" stroke="#000" stroke-width="1" />
<line x1="518.96" y1="331.20" x2="518.96" y2="329.80" stroke="#000" stroke-width="1" />
<line x1="524.48" y1="3.00" x2="524.48" y2="6.60" stroke="#000" stroke-width="1" />
<line x1="524.48" y1="263.60" x2="524.48" y2="260.10" stroke="#000" stroke-width="1" />
<line x1="524.48" y1="263.60" x2="524.48" y2="265.10" stroke="#000" stroke-width="1" />
<line x1="524.48" y1="331.20" x2="524.48" y2="329.80" stroke="#000" stroke-width="1" />
<line x1="530.01" y1="3.00" x2="530.01" y2="6.60" stroke="#000" stroke-width="1" />
<line x1="530.01" y1="263.60" x2="530.01" y2="260.10" stroke="#000" stroke-width="1" />
<line x1="530.01" y1="263.60" x2="530.01" y2="265.10" stroke="#000" stroke-width="1" />
<line x1="530.01" y1="331.20" x2="530.01" y2="329.80" stroke="#000" stroke-width="1" />
<line x1="535.53" y1="3.00" x2="535.53" y2="6.60" stroke="#000" stroke-width="1" />
<line x1="535.53" y1="263.60" x2="535.53" y2="260.10" stroke="#000" stroke-width="1" />
<line x1="535.53" y1="263.60" x2="535.53" y2="265.10" stroke="#000" stroke-width="1" />
<line x1="535.53" y1="331.20" x2="535.53" y2="329.80" stroke="#000" stroke-width="1" />
<line x1="541.05" y1="3.00" x2="541.05" y2="10.50" stroke="#000" stroke-width="1" />
<line x1="541.05" y1="263.60" x2="541.05" y2="256.60" stroke="#000" stroke-width="1" />
<line x1="541.05" y1="263.60" x2="541.05" y2="266.30" stroke="#000" stroke-width="1" />
<line x1="541.05" y1="331.20" x2="541.05" y2="328.60" stroke="#000" stroke-width="1" />
<line x1="546.57" y1="3.00" x2="546.57" y2="6.60" stroke="#000" stroke-width="1" />
<line x1="546.57" y1="263.60" x2="546.57" y2="260.10" stroke="#000" stroke-width="1" />
<line x1="546.57" y1="263.60" x2="546.57" y2="265.10" stroke="#000" stroke-width="1" />
<line x1="546.57" y1="331.20" x2="546.57" y2="329.80" stroke="#000" stroke-width="1" />
<line x1="552.09" y1="3.00" x2="552.09" y2="6.60" stroke="#000" stroke-width="1" />
<line x1="552.09" y1="263.60" x2="552.09" y2="260.10" stroke="#000" stroke-width="1" />
<line x1="552.09" y1="263.60" x2="552.09" y2="265.10" stroke="#000" stroke-width="1" />
<line x1="552.09" y1="331.20" x2="552.09" y2="329.80" stroke="#000" stroke-width="1" />
<line x1="557.62" y1="3.00" x2="557.62" y2="6.60" stroke="#000" stroke-width="1" />
<line x1="557.62" y1="263.60" x2="557.62" y2="260.10" stroke="#000" stroke-width="1" />
<line x1="557.62" y1="263.60" x2="557.62" y2="265.10" stroke="#000" stroke-width="1" />
<line x1="557.62" y1="331.20" x2="557.62" y2="329.80" stroke="#000" stroke-width="1" />
<line x1="563.14" y1="3.00" x2="563.14" y2="6.60" stroke="#000" stroke-width="1" />
<line x1="563.14" y1="263.60" x2="563.14" y2="260.10" stroke="#000" stroke-width="1" />
<line x1="563.14" y1="263.60" x2="563.14" y2="265.10" stroke="#000" stroke-width="1" />
<line x1="563.14" y1="331.20" x2="563.14" y2="329.80" stroke="#000" stroke-width="1" />
<line x1="568.66" y1="3.00" x2="568.66" y2="10.50" stroke="#000" stroke-width="1" />
<line x1="568.66" y1="263.60" x2="568.66" y2="256.60" stroke="#000" stroke-width="1" />
<line x1="568.66" y1="263.60" x2="568.66" y2="266.30" stroke="#000" stroke-width="1" />
<line x1="568.66" y1="331.20" x2="568.66" y2="328.60" stroke="#000" stroke-width="1" />
<line x1="574.18" y1="3.00" x2="574.18" y2="6.60" stroke="#000" stroke-width="1" />
<line x1="574.18" y1="263.60" x2="574.18" y2="260.10" stroke="#000" stroke-width="1" />
<line x1="574.18" y1="263.60" x2="574.18" y2="265.10" stroke="#000" stroke-width="1" />
<line x1="574.18" y1="331.20" x2="574.18" y2="329.80" stroke="#000" stroke-width="1" />
<line x1="579.70" y1="3.00" x2="579.70" y2="6.60" stroke="#000" stroke-width="1" />
<line x1="579.70" y1="263.60" x2="579.70" y2="260.10" stroke="#000" stroke-width="1" />
<line x1="579.70" y1="263.60" x2="579.70" y2="265.10" stroke="#000" stroke-width="1" />
<line x1="579.70" y1="331.20" x2="579.70" y2="329.80" stroke="#000" stroke-width="1" />
<line x1="585.23" y1="3.00" x2="585.23" y2="6.60" stroke="#000" stroke-width="1" />
<line x1="585.23" y1="263.60" x2="585.23" y2="260.10" stroke="#000" stroke-width="1" />
<line x1="585.23" y1="263.60" x2="585.23" y2="265.10" stroke="#000" stroke-width="1" />
<line x1="585.23" y1="331.20" x2="585.23" y2="329.80" stroke="#000" stroke-width="1" />
<line x1="590.75" y1="3.00" x2="590.75" y2="6.60" stroke="#000" stroke-width="1" />
<line x1="590.75" y1="263.60" x2="590.75" y2="260.10" stroke="#000" stroke-width="1" />
<line x1="590.75" y1="263.60" x2="590.75" y2="265.10" stroke="#000" stroke-width="1" />
<line x1="590.75" y1="331.20" x2="590.75" y2="329.80" stroke="#000" stroke-width="1" />
<line x1="596.27" y1="3.00" x2="596.27" y2="10.50" stroke="#000" stroke-width="1" />
<line x1="596.27" y1="263.60" x2="596.27" y2="256.60" stroke="#000" stroke-width="1" />
<line x1="596.27" y1="263.60" x2="596.27" y2="266.30" stroke="#000" stroke-width="1" />
<line x1="596.27" y1="331.20" x2="596.27" y2="328.60" stroke="#000" stroke-width="1" />
<line x1="601.79" y1="3.00" x2="601.79" y2="6.60" stroke="#000" stroke-width="1" />
<line x1="601.79" y1="263.60" x2="601.79" y2="260.10" stroke="#000" stroke-width="1" />
<line x1="601.79" y1="263.60" x2="601.79" y2="265.10" stroke="#000" stroke-width="1" />
<line x1="601.79" y1="331.20" x2="601.79" y2="329.80" stroke="#000" stroke-width="1" />
<line x1="607.31" y1="3.00" x2="607.31" y2="6.60" stroke="#000" stroke-width="1" />
<line x1="607.31" y1="263.60" x2="607.31" y2="260.10" stroke="#000" stroke-width="1" />
<line x1="607.31" y1="263.60" x2="607.31" y2="265.10" stroke="#000" stroke-width="1" />
<line x1="607.31" y1="331.20" x2="607.31" y2="329.80" stroke="#000" stroke-width="1" />
<line x1="612.84" y1="3.00" x2="612.84" y2="6.60" stroke="#000" stroke-width="1" />
<line x1="612.84" y1="263.60" x2="612.84" y2="260.10" stroke="#000" stroke-width="1" />
<line x1="612.84" y1="263.60" x2="612.84" y2="265.10" stroke="#000" stroke-width="1" />
<line x1="612.84" y1="331.20" x2="612.84" y2="329.80" stroke="#000" stroke-width="1" />
<line x1="618.36" y1="3.00" x2="618.36" y2="6.60" stroke="#000" stroke-width="1" />
<line x1="618.36" y1="263.60" x2="618.36" y2="260.10" stroke="#000" stroke-width="1" />
<line x1="618.36" y1="263.60" x2="618.36" y2="265.10" stroke="#000" stroke-width="1" />
<line x1="618.36" y1="331.20" x2="618.36" y2="329.80" stroke="#000" stroke-width="1" />
<line x1="623.88" y1="3.00" x2="623.88" y2="10.50" stroke="#000" stroke-width="1" />
<line x1="623.88" y1="263.60" x2="623.88" y2="256.60" stroke="#000" stroke-width="1" />
<line x1="623.88" y1="263.60" x2="623.88" y2="266.30" stroke="#000" stroke-width="1" />
<line x1="623.88" y1="331.20" x2="623.88" y2="328.60" stroke="#000" stroke-width="1" />
<line x1="629.40" y1="3.00" x2="629.40" y2="6.60" stroke="#000" stroke-width="1" />
<line x1="629.40" y1="263.60" x2="629.40" y2="260.10" stroke="#000" stroke-width="1" />
<line x1="629.40" y1="263.60" x2="629.40" y2="265.10" stroke="#000" stroke-width="1" />
<line x1="629.40" y1="331.20" x2="629.40" y2="329.80" stroke="#000" stroke-width="1" />
<line x1="634.92" y1="3.00" x2="634.92" y2="6.60" stroke="#000" stroke-width="1" />
<line x1="634.92" y1="263.60" x2="634.92" y2="260.10" stroke="#000" stroke-width="1" />
<line x1="634.92" y1="263.60" x2="634.92" y2="265.10" stroke="#000" stroke-width="1" />
<line x1="634.92" y1="331.20" x2="634.92" y2="329.80" stroke="#000" stroke-width="1" />
<line x1="640.45" y1="3.00" x2="640.45" y2="6.60" stroke="#000" stroke-width="1" />
<line x1="640.45" y1="263.60" x2="640.45" y2="260.10" stroke="#000" stroke-width="1" />
<line x1="640.45" y1="263.60" x2="640.45" y2="265.10" stroke="#000" stroke-width="1" />
<line x1="640.45" y1="331.20" x2="640.45" y2="329.80" stroke="#000" stroke-width="1" />
<line x1="645.97" y1="3.00" x2="645.97" y2="6.60" stroke="#000" stroke-width="1" />
<line x1="645.97" y1="263.60" x2="645.97" y2="260.10" stroke="#000" stroke-width="1" />
<line x1="645.97" y1="263.60" x2="645.97" y2="265.10" stroke="#000" stroke-width="1" />
<line x1="645.97" y1="331.20" x2="645.97" y2="329.80" stroke="#000" stroke-width="1" />
<line x1="651.49" y1="3.00" x2="651.49" y2="10.50" stroke="#000" stroke-width="1" />
<line x1="651.49" y1="263.60" x2="651.49" y2="256.60" stroke="#000" stroke-width="1" />
<line x1="651.49" y1="263.60" x2="651.49" y2="266.30" stroke="#000" stroke-width="1" />
<line x1="651.49" y1="331.20" x2="651.49" y2="328.60" stroke="#000" stroke-width="1" />
<line x1="657.01" y1="3.00" x2="657.01" y2="6.60" stroke="#000" stroke-width="1" />
<line x1="657.01" y1="263.60" x2="657.01" y2="260.10" stroke="#000" stroke-width="1" />
<line x1="657.01" y1="263.60" x2="657.01" y2="265.10" stroke="#000" stroke-width="1" />
<line x1="657.01" y1="331.20" x2="657.01" y2="329.80" stroke="#000" stroke-width="1" />
<line x1="662.53" y1="3.00" x2="662.53" y2="6.60" stroke="#000" stroke-width="1" />
<line x1="662.53" y1="263.60" x2="662.53" y2="260.10" stroke="#000" stroke-width="1" />
<line x1="662.53" y1="263.60" x2="662.53" y2="265.10" stroke="#000" stroke-width="1" />
<line x1="662.53" y1="331.20" x2="662.53" y2="329.80" stroke="#000" stroke-width="1" />
<line x1="668.06" y1="3.00" x2="668.06" y2="6.60" stroke="#000" stroke-width="1" />
<line x1="668.06" y1="263.60" x2="668.06" y2="260.10" stroke="#000" stroke-width="1" />
<line x1="668.06" y1="263.60" x2="668.06" y2="265.10" stroke="#000" stroke-width="1" />
<line x1="668.06" y1="331.20" x2="668.06" y2="329.80" stroke="#000" stroke-width="1" />
<line x1="673.58" y1="3.00" x2="673.58" y2="6.60" stroke="#000" stroke-width="1" />
<line x1="673.58" y1="263.60" x2="673.58" y2="260.10" stroke="#000" stroke-width="1" />
<line x1="673.58" y1="263.60" x2="673.58" y2="265.10" stroke="#000" stroke-width="1" />
<line x1="673.58" y1="331.20" x2="673.58" y2="329.80" stroke="#000" stroke-width="1" />
<line x1="679.10" y1="3.00" x2="679.10" y2="10.50" stroke="#000" stroke-width="1" />
<line x1="679.10" y1="263.60" x2="679.10" y2="256.60" stroke="#000" stroke-width="1" />
<line x1="679.10" y1="263.60" x2="679.10" y2="266.30" stroke="#000" stroke-width="1" />
<line x1="679.10" y1="331.20" x2="679.10" y2="328.60" stroke="#000" stroke-width="1" />
<line x1="53.10" y1="263.60" x2="61.70" y2="263.60" stroke="#000" stroke-width="1" />
<line x1="329.30" y1="263.60" x2="320.70" y2="263.60" stroke="#000" stroke-width="1" />
<line x1="53.10" y1="216.50" x2="61.70" y2="216.50" stroke="#000" stroke-width="1" />
<line x1="329.30" y1="216.50" x2="320.70" y2="216.50" stroke="#000" stroke-width="1" />
<line x1="53.10" y1="169.40" x2="61.70" y2="169.40" stroke="#000" stroke-width="1" />
<line x1="329.30" y1="169.40" x2="320.70" y2="169.40" stroke="#000" stroke-width="1" />
<line x1="53.10" y1="122.30" x2="61.70" y2="122.30" stroke="#000" stroke-width="1" />
<line x1="329.30" y1="122.30" x2="320.70" y2="122.30" stroke="#000" stroke-width="1" />
<line x1="53.10" y1="75.20" x2="61.70" y2="75.20" stroke="#000" stroke-width="1" />
<line x1="329.30" y1="75.20" x2="320.70" y2="75.20" stroke="#000" stroke-width="1" />
<line x1="53.10" y1="28.10" x2="61.70" y2="28.10" stroke="#000" stroke-width="1" />
<line x1="329.30" y1="28.10" x2="320.70" y2="28.10" stroke="#000" stroke-width="1" />
<line x1="53.10" y1="263.60" x2="57.50" y2="263.60" stroke="#000" stroke-width="1" />
<line x1="329.30" y1="263.60" x2="324.90" y2="263.60" stroke="#000" stroke-width="1" />
<line x1="53.10" y1="254.18" x2="57.50" y2="254.18" stroke="#000" stroke-width="1" />
<line x1="329.30" y1="254.18" x2="324.90" y2="254.18" stroke="#000" stroke-width="1" />
<line x1="53.10" y1="244.76" x2="57.50" y2="244.76" stroke="#000" stroke-width="1" />
<line x1="329.30" y1="244.76" x2="324.90" y2="244.76" stroke="#000" stroke-width="1" />
<line x1="53.10" y1="235.34" x2="57.50" y2="235.34" stroke="#000" stroke-width="1" />
<line x1="329.30" y1="235.34" x2="324.90" y2="235.34" stroke="#000" stroke-width="1" />
<line x1="53.10" y1="225.92" x2="57.50" y2="225.92" stroke="#000" stroke-width="1" />
<line x1="329.30" y1="225.92" x2="324.90" y2="225.92" stroke="#000" stroke-width="1" />
<line x1="53.10" y1="216.50" x2="57.50" y2="216.50" stroke="#000" stroke-width="1" />
<line x1="329.30" y1="216.50" x2="324.90" y2="216.50" stroke="#000" stroke-width="1" />
<line x1="53.10" y1="207.08" x2="57.50" y2="207.08" stroke="#000" stroke-width="1" />
<line x1="329.30" y1="207.08" x2="324.90" y2="207.08" stroke="#000" stroke-width="1" />
<line x1="53.10" y1="197.66" x2="57.50" y2="197.66" stroke="#000" stroke-width="1" />
<line x1="329.30" y1="197.66" x2="324.90" y2="197.66" stroke="#000" stroke-width="1" />
<line x1="53.10" y1="188.24" x2="57.50" y2="188.24" stroke="#000" stroke-width="1" />
<line x1="329.30" y1="188.24" x2="324.90" y2="188.24" stroke="#000" stroke-width="1" />
<line x1="53.10" y1="178.82" x2="57.50" y2="178.82" stroke="#000" stroke-width="1" />
<line x1="329.30" y1="178.82" x2="324.90" y2="178.82" stroke="#000" stroke-width="1" />
<line x1="53.10" y1="169.40" x2="57.50" y2="169.40" stroke="#000" stroke-width="1" />
<line x1="329.30" y1="169.40" x2="324.90" y2="169.40" stroke="#000" stroke-width="1" />
<line x1="53.10" y1="159.98" x2="57.50" y2="159.98" stroke="#000" stroke-width="1" />
<line x1="329.30" y1="159.98" x2="324.90" y2="159.98" stroke="#000" stroke-width="1" />
<line x1="53.10" y1="150.56" x2="57.50" y2="150.56" stroke="#000" stroke-width="1" />
<line x1="329.30" y1="150.56" x2="324.90" y2="150.56" stroke="#000" stroke-width="1" />
<line x1="53.10" y1="141.14" x2="57.50" y2="141.14" stroke="#000" stroke-width="1" />
<line x1="329.30" y1="141.14" x2="324.90" y2="141.14" stroke="#000" stroke-width="1" />
<line x1="53.10" y1="131.72" x2="57.50" y2="131.72" stroke="#000" stroke-width="1" />
<line x1="329.30" y1="131.72" x2="324.90" y2="131.72" stroke="#000" stroke-width="1" />
<line x1="53.10" y1="122.30" x2="57.50" y2="122.30" stroke="#000" stroke-width="1" />
<line x1="329.30" y1="122.30" x2="324.90" y2="122.30" stroke="#000" stroke-width="1" />
<line x1="53.10" y1="112.88" x2="57.50" y2="112.88" stroke="#000" stroke-width="1" />
<line x1="329.30" y1="112.88" x2="324.90" y2="112.88" stroke="#000" stroke-width="1" />
<line x1="53.10" y1="103.46" x2="57.50" y2="103.46" stroke="#000" stroke-width="1" />
<line x1="329.30" y1="103.46" x2="324.90" y2="103.46" stroke="#000" stroke-width="1" />
<line x1="53.10" y1="94.04" x2="57.50" y2="94.04" stroke="#000" stroke-width="1" />
<line x1="329.30" y1="94.04" x2="324.90" y2="94.04" stroke="#000" stroke-width="1" />
<line x1="53.10" y1="84.62" x2="57.50" y2="84.62" stroke="#000" stroke-width="1" />
<line x1="329.30" y1="84.62" x2="324.90" y2="84.62" stroke="#000" stroke-width="1" />
<line x1="53.10" y1="75.20" x2="57.50" y2="75.20" stroke="#000" stroke-width="1" />
<line x1="329.30" y1="75.20" x2="324.90" y2="75.20" stroke="#000" stroke-width="1" />
<line x1="53.10" y1="65.78" x2="57.50" y2="65.78" stroke="#000" stroke-width="1" />
<line x1="329.30" y1="65.78" x2="324.90" y2="65.78" stroke="#000" stroke-width="1" />
<line x1="53.10" y1="56.36" x2="57.50" y2="56.36" stroke="#000" stroke-width="1" />
<line x1="329.30" y1="56.36" x2="324.90" y2="56.36" stroke="#000" stroke-width="1" />
<line x1="53.10" y1="46.94" x2="57.50" y2="46.94" stroke="#000" stroke-width="1" />
<line x1="329.30" y1="46.94" x2="324.90" y2="46.94" stroke="#000" stroke-width="1" />
<line x1="53.10" y1="37.52" x2="57.50" y2="37.52" stroke="#000" stroke-width="1" />
<line x1="329.30" y1="37.52" x2="324.90" y2="37.52" stroke="#000" stroke-width="1" />
<line x1="53.10" y1="28.10" x2="57.50" y2="28.10" stroke="#000" stroke-width="1" />
<line x1="329.30" y1="28.10" x2="324.90" y2="28.10" stroke="#000" stroke-width="1" />
<line x1="53.10" y1="18.68" x2="57.50" y2="18.68" stroke="#000" stroke-width="1" />
<line x1="329.30" y1="18.68" x2="324.90" y2="18.68" stroke="#000" stroke-width="1" />
<line x1="53.10" y1="9.26" x2="57.50" y2="9.26" stroke="#000" stroke-width="1" />
<line x1="329.30" y1="9.26" x2="324.90" y2="9.26" stroke="#000" stroke-width="1" />
<line x1="53.10" y1="314.60" x2="59.70" y2="314.60" stroke="#000" stroke-width="1" />
<line x1="329.30" y1="314.60" x2="322.70" y2="314.60" stroke="#000" stroke-width="1" />
<line x1="53.10" y1="297.50" x2="59.70" y2="297.50" stroke="#000" stroke-width="1" />
<line x1="329.30" y1="297.50" x2="322.70" y2="297.50" stroke="#000" stroke-width="1" />
<line x1="53.10" y1="280.40" x2="59.70" y2="280.40" stroke="#000" stroke-width="1" />
<line x1="329.30" y1="280.40" x2="322.70" y2="280.40" stroke="#000" stroke-width="1" />
<line x1="53.10" y1="328.28" x2="56.40" y2="328.28" stroke="#000" stroke-width="1" />
<line x1="329.30" y1="328.28" x2="326.00" y2="328.28" stroke="#000" stroke-width="1" />
<line x1="53.10" y1="324.86" x2="56.40" y2="324.86" stroke="#000" stroke-width="1" />
<line x1="329.30" y1="324.86" x2="326.00" y2="324.86" stroke="#000" stroke-width="1" />
<line x1="53.10" y1="321.44" x2="56.40" y2="321.44" stroke="#000" stroke-width="1" />
<line x1="329.30" y1="321.44" x2="326.00" y2="321.44" stroke="#000" stroke-width="1" />
<line x1="53.10" y1="318.02" x2="56.40" y2="318.02" stroke="#000" stroke-width="1" />
<line x1="329.30" y1="318.02" x2="326.00" y2="318.02" stroke="#000" stroke-width="1" />
<line x1="53.10" y1="314.60" x2="56.40" y2="314.60" stroke="#000" stroke-width="1" />
<line x1="329.30" y1="314.60" x2="326.00" y2="314.60" stroke="#000" stroke-width="1" />
<line x1="53.10" y1="311.18" x2="56.40" y2="311.18" stroke="#000" stroke-width="1" />
<line x1="329.30" y1="311.18" x2="326.00" y2="311.18" stroke="#000" stroke-width="1" />
<line x1="53.10" y1="307.76" x2="56.40" y2="307.76" stroke="#000" stroke-width="1" />
<line x1="329.30" y1="307.76" x2="326.00" y2="307.76" stroke="#000" stroke-width="1" />
<line x1="53.10" y1="304.34" x2="56.40" y2="304.34" stroke="#000" stroke-width="1" />
<line x1="329.30" y1="304.34" x2="326.00" y2="304.34" stroke="#000" stroke-width="1" />
<line x1="53.10" y1="300.92" x2="56.40" y2="300.92" stroke="#000" stroke-width="1" />
<line x1="329.30" y1="300.92" x2="326.00" y2="300.92" stroke="#000" stroke-width="1" />
<line x1="53.10" y1="297.50" x2="56.40" y2="297.50" stroke="#000" stroke-width="1" />
<line x1="329.30" y1="297.50" x2="326.00" y2="297.50" stroke="#000" stroke-width="1" />
<line x1="53.10" y1="294.08" x2="56.40" y2="294.08" stroke="#000" stroke-width="1" />
<line x1="329.30" y1="294.08" x2="326.00" y2="294.08" stroke="#000" stroke-width="1" />
<line x1="53.10" y1="290.66" x2="56.40" y2="290.66" stroke="#000" stroke-width="1" />
<line x1="329.30" y1="290.66" x2="326.00" y2="290.66" stroke="#000" stroke-width="1" />
<line x1="53.10" y1="287.24" x2="56.40" y2="287.24" stroke="#000" stroke-width="1" />
<line x1="329.30" y1="287.24" x2="326.00" y2="287.24" stroke="#000" stroke-width="1" />
<line x1="53.10" y1="283.82" x2="56.40" y2="283.82" stroke="#000" stroke-width="1" />
<line x1="329.30" y1="283.82" x2="326.00" y2="283.82" stroke="#000" stroke-width="1" />
<line x1="53.10" y1="280.40" x2="56.40" y2="280.40" stroke="#000" stroke-width="1" />
<line x1="329.30" y1="280.40" x2="326.00" y2="280.40" stroke="#000" stroke-width="1" />
<line x1="53.10" y1="276.98" x2="56.40" y2="276.98" stroke="#000" stroke-width="1" />
<line x1="329.30" y1="276.98" x2="326.00" y2="276.98" stroke="#000" stroke-width="1" />
<line x1="53.10" y1="273.56" x2="56.40" y2="273.56" stroke="#000" stroke-width="1" />
<line x1="329.30" y1="273.56" x2="326.00" y2="273.56" stroke="#000" stroke-width="1" />
<line x1="53.10" y1="270.14" x2="56.40" y2="270.14" stroke="#000" stroke-width="1" />
<line x1="329.30" y1="270.14" x2="326.00" y2="270.14" stroke="#000" stroke-width="1" />
<line x1="53.10" y1="266.72" x2="56.40" y2="266.72" stroke="#000" stroke-width="1" />
<line x1="329.30" y1="266.72" x2="326.00" y2="266.72" stroke="#000" stroke-width="1" />
<line x1="403.00" y1="263.30" x2="411.60" y2="263.30" stroke="#000" stroke-width="1" />
<line x1="679.10" y1="263.30" x2="670.50" y2="263.30" stroke="#000" stroke-width="1" />
<line x1="403.00" y1="207.15" x2="411.60" y2="207.15" stroke="#000" stroke-width="1" />
<line x1="679.10" y1="207.15" x2="670.50" y2="207.15" stroke="#000" stroke-width="1" />
<line x1="403.00" y1="151.00" x2="411.60" y2="151.00" stroke="#000" stroke-width="1" />
<line x1="679.10" y1="151.00" x2="670.50" y2="151.00" stroke="#000" stroke-width="1" />
<line x1="403.00" y1="94.85" x2="411.60" y2="94.85" stroke="#000" stroke-width="1" />
<line x1="679.10" y1="94.85" x2="670.50" y2="94.85" stroke="#000" stroke-width="1" />
<line x1="403.00" y1="38.70" x2="411.60" y2="38.70" stroke="#000" stroke-width="1" />
<line x1="679.10" y1="38.70" x2="670.50" y2="38.70" stroke="#000" stroke-width="1" />
<line x1="403.00" y1="246.40" x2="407.40" y2="246.40" stroke="#000" stroke-width="1" />
<line x1="679.10" y1="246.40" x2="674.70" y2="246.40" stroke="#000" stroke-width="1" />
<line x1="403.00" y1="236.51" x2="407.40" y2="236.51" stroke="#000" stroke-width="1" />
<line x1="679.10" y1="236.51" x2="674.70" y2="236.51" stroke="#000" stroke-width="1" />
<line x1="403.00" y1="229.49" x2="407.40" y2="229.49" stroke="#000" stroke-width="1" />
<line x1="679.10" y1="229.49" x2="674.70" y2="229.49" stroke="#000" stroke-width="1" />
<line x1="403.00" y1="224.05" x2="407.40" y2="224.05" stroke="#000" stroke-width="1" />
<line x1="679.10" y1="224.05" x2="674.70" y2="224.05" stroke="#000" stroke-width="1" />
<line x1="403.00" y1="219.61" x2="407.40" y2="219.61" stroke="#000" stroke-width="1" />
<line x1="679.10" y1="219.61" x2="674.70" y2="219.61" stroke="#000" stroke-width="1" />
<line x1="403.00" y1="215.85" x2="407.40" y2="215.85" stroke="#000" stroke-width="1" />
<line x1="679.10" y1="215.85" x2="674.70" y2="215.85" stroke="#000" stroke-width="1" />
<line x1="403.00" y1="212.59" x2="407.40" y2="212.59" stroke="#000" stroke-width="1" />
<line x1="679.10" y1="212.59" x2="674.70" y2="212.59" stroke="#000" stroke-width="1" />
<line x1="403.00" y1="209.72" x2="407.40" y2="209.72" stroke="#000" stroke-width="1" />
<line x1="679.10" y1="209.72" x2="674.70" y2="209.72" stroke="#000" stroke-width="1" />
<line x1="403.00" y1="190.25" x2="407.40" y2="190.25" stroke="#000" stroke-width="1" />
<line x1="679.10" y1="190.25" x2="674.70" y2="190.25" stroke="#000" stroke-width="1" />
<line x1="403.00" y1="180.36" x2="407.40" y2="180.36" stroke="#000" stroke-width="1" />
<line x1="679.10" y1="180.36" x2="674.70" y2="180.36" stroke="#000" stroke-width="1" />
<line x1="403.00" y1="173.34" x2="407.40" y2="173.34" stroke="#000" stroke-width="1" />
<line x1="679.10" y1="173.34" x2="674.70" y2="173.34" stroke="#000" stroke-width="1" />
<line x1="403.00" y1="167.90" x2="407.40" y2="167.90" stroke="#000" stroke-width="1" />
<line x1="679.10" y1="167.90" x2="674.70" y2="167.90" stroke="#000" stroke-width="1" />
<line x1="403.00" y1="163.46" x2="407.40" y2="163.46" stroke="#000" stroke-width="1" />
<line x1="679.10" y1="163.46" x2="674.70" y2="163.46" stroke="#000" stroke-width="1" />
<line x1="403.00" y1="159.70" x2="407.40" y2="159.70" stroke="#000" stroke-width="1" />
<line x1="679.10" y1="159.70" x2="674.70" y2="159.70" stroke="#000" stroke-width="1" />
<line x1="403.00" y1="156.44" x2="407.40" y2="156.44" stroke="#000" stroke-width="1" />
<line x1="679.10" y1="156.44" x2="674.70" y2="156.44" stroke="#000" stroke-width="1" />
<line x1="403.00" y1="153.57" x2="407.40" y2="153.57" stroke="#000" stroke-width="1" />
<line x1="679.10" y1="153.57" x2="674.70" y2="153.57" stroke="#000" stroke-width="1" />
<line x1="403.00" y1="134.10" x2="407.40" y2="134.10" stroke="#000" stroke-width="1" />
<line x1="679.10" y1="134.10" x2="674.70" y2="134.10" stroke="#000" stroke-width="1" />
<line x1="403.00" y1="124.21" x2="407.40" y2="124.21" stroke="#000" stroke-width="1" />
<line x1="679.10" y1="124.21" x2="674.70" y2="124.21" stroke="#000" stroke-width="1" />
<line x1="403.00" y1="117.19" x2="407.40" y2="117.19" stroke="#000" stroke-width="1" />
<line x1="679.10" y1="117.19" x2="674.70" y2="117.19" stroke="#000" stroke-width="1" />
<line x1="403.00" y1="111.75" x2="407.40" y2="111.75" stroke="#000" stroke-width="1" />
<line x1="679.10" y1="111.75" x2="674.70" y2="111.75" stroke="#000" stroke-width="1" />
<line x1="403.00" y1="107.31" x2="407.40" y2="107.31" stroke="#000" stroke-width="1" />
<line x1="679.10" y1="107.31" x2="674.70" y2="107.31" stroke="#000" stroke-width="1" />
<line x1="403.00" y1="103.55" x2="407.40" y2="103.55" stroke="#000" stroke-width="1" />
<line x1="679.10" y1="103.55" x2="674.70" y2="103.55" stroke="#000" stroke-width="1" />
<line x1="403.00" y1="100.29" x2="407.40" y2="100.29" stroke="#000" stroke-width="1" />
<line x1="679.10" y1="100.29" x2="674.70" y2="100.29" stroke="#000" stroke-width="1" />
<line x1="403.00" y1="97.42" x2="407.40" y2="97.42" stroke="#000" stroke-width="1" />
<line x1="679.10" y1="97.42" x2="674.70" y2="97.42" stroke="#000" stroke-width="1" />
<line x1="403.00" y1="77.95" x2="407.40" y2="77.95" stroke="#000" stroke-width="1" />
<line x1="679.10" y1="77.95" x2="674.70" y2="77.95" stroke="#000" stroke-width="1" />
<line x1="403.00" y1="68.06" x2="407.40" y2="68.06" stroke="#000" stroke-width="1" />
<line x1="679.10" y1="68.06" x2="674.70" y2="68.06" stroke="#000" stroke-width="1" />
<line x1="403.00" y1="61.04" x2="407.40" y2="61.04" stroke="#000" stroke-width="1" />
<line x1="679.10" y1="61.04" x2="674.70" y2="61.04" stroke="#000" stroke-width="1" />
<line x1="403.00" y1="55.60" x2="407.40" y2="55.60" stroke="#000" stroke-width="1" />
<line x1="679.10" y1="55.60" x2="674.70" y2="55.60" stroke="#000" stroke-width="1" />
<line x1="403.00" y1="51.16" x2="407.40" y2="51.16" stroke="#000" stroke-width="1" />
<line x1="679.10" y1="51.16" x2="674.70" y2="51.16" stroke="#000" stroke-width="1" />
<line x1="403.00" y1="47.40" x2="407.40" y2="47.40" stroke="#000" stroke-width="1" />
<line x1="679.10" y1="47.40" x2="674.70" y2="47.40" stroke="#000" stroke-width="1" />
<line x1="403.00" y1="44.14" x2="407.40" y2="44.14" stroke="#000" stroke-width="1" />
<line x1="679.10" y1="44.14" x2="674.70" y2="44.14" stroke="#000" stroke-width="1" />
<line x1="403.00" y1="41.27" x2="407.40" y2="41.27" stroke="#000" stroke-width="1" />
<line x1="679.10" y1="41.27" x2="674.70" y2="41.27" stroke="#000" stroke-width="1" />
<line x1="403.00" y1="21.80" x2="407.40" y2="21.80" stroke="#000" stroke-width="1" />
<line x1="679.10" y1="21.80" x2="674.70" y2="21.80" stroke="#000" stroke-width="1" />
<line x1="403.00" y1="11.91" x2="407.40" y2="11.91" stroke="#000" stroke-width="1" />
<line x1="679.10" y1="11.91" x2="674.70" y2="11.91" stroke="#000" stroke-width="1" />
<line x1="403.00" y1="4.89" x2="407.40" y2="4.89" stroke="#000" stroke-width="1" />
<line x1="679.10" y1="4.89" x2="674.70" y2="4.89" stroke="#000" stroke-width="1" />
<line x1="403.00" y1="331.10" x2="409.60" y2="331.10" stroke="#000" stroke-width="1" />
<line x1="679.10" y1="331.10" x2="672.50" y2="331.10" stroke="#000" stroke-width="1" />
<line x1="403.00" y1="314.30" x2="409.60" y2="314.30" stroke="#000" stroke-width="1" />
<line x1="679.10" y1="314.30" x2="672.50" y2="314.30" stroke="#000" stroke-width="1" />
<line x1="403.00" y1="297.50" x2="409.60" y2="297.50" stroke="#000" stroke-width="1" />
<line x1="679.10" y1="297.50" x2="672.50" y2="297.50" stroke="#000" stroke-width="1" />
<line x1="403.00" y1="280.70" x2="409.60" y2="280.70" stroke="#000" stroke-width="1" />
<line x1="679.10" y1="280.70" x2="672.50" y2="280.70" stroke="#000" stroke-width="1" />
<line x1="403.00" y1="263.90" x2="409.60" y2="263.90" stroke="#000" stroke-width="1" />
<line x1="679.10" y1="263.90" x2="672.50" y2="263.90" stroke="#000" stroke-width="1" />
<line x1="403.00" y1="331.10" x2="406.30" y2="331.10" stroke="#000" stroke-width="1" />
<line x1="679.10" y1="331.10" x2="675.80" y2="331.10" stroke="#000" stroke-width="1" />
<line x1="403.00" y1="327.74" x2="406.30" y2="327.74" stroke="#000" stroke-width="1" />
<line x1="679.10" y1="327.74" x2="675.80" y2="327.74" stroke="#000" stroke-width="1" />
<line x1="403.00" y1="324.38" x2="406.30" y2="324.38" stroke="#000" stroke-width="1" />
<line x1="679.10" y1="324.38" x2="675.80" y2="324.38" stroke="#000" stroke-width="1" />
<line x1="403.00" y1="321.02" x2="406.30" y2="321.02" stroke="#000" stroke-width="1" />
<line x1="679.10" y1="321.02" x2="675.80" y2="321.02" stroke="#000" stroke-width="1" />
<line x1="403.00" y1="317.66" x2="406.30" y2="317.66" stroke="#000" stroke-width="1" />
<line x1="679.10" y1="317.66" x2="675.80" y2="317.66" stroke="#000" stroke-width="1" />
<line x1="403.00" y1="314.30" x2="406.30" y2="314.30" stroke="#000" stroke-width="1" />
<line x1="679.10" y1="314.30" x2="675.80" y2="314.30" stroke="#000" stroke-width="1" />
<line x1="403.00" y1="310.94" x2="406.30" y2="310.94" stroke="#000" stroke-width="1" />
<line x1="679.10" y1="310.94" x2="675.80" y2="310.94" stroke="#000" stroke-width="1" />
<line x1="403.00" y1="307.58" x2="406.30" y2="307.58" stroke="#000" stroke-width="1" />
<line x1="679.10" y1="307.58" x2="675.80" y2="307.58" stroke="#000" stroke-width="1" />
<line x1="403.00" y1="304.22" x2="406.30" y2="304.22" stroke="#000" stroke-width="1" />
<line x1="679.10" y1="304.22" x2="675.80" y2="304.22" stroke="#000" stroke-width="1" />
<line x1="403.00" y1="300.86" x2="406.30" y2="300.86" stroke="#000" stroke-width="1" />
<line x1="679.10" y1="300.86" x2="675.80" y2="300.86" stroke="#000" stroke-width="1" />
<line x1="403.00" y1="297.50" x2="406.30" y2="297.50" stroke="#000" stroke-width="1" />
<line x1="679.10" y1="297.50" x2="675.80" y2="297.50" stroke="#000" stroke-width="1" />
<line x1="403.00" y1="294.14" x2="406.30" y2="294.14" stroke="#000" stroke-width="1" />
<line x1="679.10" y1="294.14" x2="675.80" y2="294.14" stroke="#000" stroke-width="1" />
<line x1="403.00" y1="290.78" x2="406.30" y2="290.78" stroke="#000" stroke-width="1" />
<line x1="679.10" y1="290.78" x2="675.80" y2="290.78" stroke="#000" stroke-width="1" />
<line x1="403.00" y1="287.42" x2="406.30" y2="287.42" stroke="#000" stroke-width="1" />
<line x1="679.10" y1="287.42" x2="675.80" y2="287.42" stroke="#000" stroke-width="1" />
<line x1="403.00" y1="284.06" x2="406.30" y2="284.06" stroke="#000" stroke-width="1" />
<line x1="679.10" y1="284.06" x2="675.80" y2="284.06" stroke="#000" stroke-width="1" />
<line x1="403.00" y1="280.70" x2="406.30" y2="280.70" stroke="#000" stroke-width="1" />
<line x1="679.10" y1="280.70" x2="675.80" y2="280.70" stroke="#000" stroke-width="1" />
<line x1="403.00" y1="277.34" x2="406.30" y2="277.34" stroke="#000" stroke-width="1" />
<line x1="679.10" y1="277.34" x2="675.80" y2="277.34" stroke="#000" stroke-width="1" />
<line x1="403.00" y1="273.98" x2="406.30" y2="273.98" stroke="#000" stroke-width="1" />
<line x1="679.10" y1="273.98" x2="675.80" y2="273.98" stroke="#000" stroke-width="1" />
<line x1="403.00" y1="270.62" x2="406.30" y2="270.62" stroke="#000" stroke-width="1" />
<line x1="679.10" y1="270.62" x2="675.80" y2="270.62" stroke="#000" stroke-width="1" />
<line x1="403.00" y1="267.26" x2="406.30" y2="267.26" stroke="#000" stroke-width="1" />
<line x1="679.10" y1="267.26" x2="675.80" y2="267.26" stroke="#000" stroke-width="1" />
<line x1="403.00" y1="263.90" x2="406.30" y2="263.90" stroke="#000" stroke-width="1" />
<line x1="679.10" y1="263.90" x2="675.80" y2="263.90" stroke="#000" stroke-width="1" />
<text x="51.30" y="267.60" font-family='"Liberation Sans", sans-serif' font-size="11.3" text-anchor="end" font-weight="normal" font-style="normal" >0</text>
<text x="51.30" y="220.50" font-family='"Liberation Sans", sans-serif' font-size="11.3" text-anchor="end" font-weight="normal" font-style="normal" >100</text>
<text x="51.30" y="173.40" font-family='"Liberation Sans", sans-serif' font-size="11.3" text-anchor="end" font-weight="normal" font-style="normal" >200</text>
<text x="51.30" y="126.30" font-family='"Liberation Sans", sans-serif' font-size="11.3" text-anchor="end" font-weight="normal" font-style="normal" >300</text>
<text x="51.30" y="79.20" font-family='"Liberation Sans", sans-serif' font-size="11.3" text-anchor="end" font-weight="normal" font-style="normal" >400</text>
<text x="51.30" y="32.10" font-family='"Liberation Sans", sans-serif' font-size="11.3" text-anchor="end" font-weight="normal" font-style="normal" >500</text>
<text x="46.30" y="284.30" font-family='"Liberation Sans", sans-serif' font-size="11.3" text-anchor="end" font-weight="normal" font-style="normal" >1.125</text>
<text x="46.30" y="301.40" font-family='"Liberation Sans", sans-serif' font-size="11.3" text-anchor="end" font-weight="normal" font-style="normal" >1</text>
<text x="46.30" y="318.50" font-family='"Liberation Sans", sans-serif' font-size="11.3" text-anchor="end" font-weight="normal" font-style="normal" >0.875</text>
<text x="46.30" y="335.60" font-family='"Liberation Sans", sans-serif' font-size="11.3" text-anchor="end" font-weight="normal" font-style="normal" >0.75</text>
<text x="400.40" y="268.10" font-family='"Liberation Sans", sans-serif' font-size="11.3" text-anchor="end" font-weight="normal" font-style="normal" >1</text>
<text x="400.40" y="211.95" font-family='"Liberation Sans", sans-serif' font-size="11.3" text-anchor="end" font-weight="normal" font-style="normal" >10</text>
<text x="396.00" y="156.60" font-family='"Liberation Sans", sans-serif' font-size="11.3" text-anchor="end" font-weight="normal" font-style="normal" >10</text>
<text x="395.70" y="151.90" font-family='"Liberation Sans", sans-serif' font-size="6.5" text-anchor="start" font-weight="normal" font-style="normal" >2</text>
<text x="396.00" y="100.45" font-family='"Liberation Sans", sans-serif' font-size="11.3" text-anchor="end" font-weight="normal" font-style="normal" >10</text>
<text x="395.70" y="95.75" font-family='"Liberation Sans", sans-serif' font-size="6.5" text-anchor="start" font-weight="normal" font-style="normal" >3</text>
<text x="396.00" y="44.30" font-family='"Liberation Sans", sans-serif' font-size="11.3" text-anchor="end" font-weight="normal" font-style="normal" >10</text>
<text x="395.70" y="39.60" font-family='"Liberation Sans", sans-serif' font-size="6.5" text-anchor="start" font-weight="normal" font-style="normal" >4</text>
<text x="396.00" y="284.60" font-family='"Liberation Sans", sans-serif' font-size="11.3" text-anchor="end" font-weight="normal" font-style="normal" >1.25</text>
<text x="396.00" y="301.40" font-family='"Liberation Sans", sans-serif' font-size="11.3" text-anchor="end" font-weight="normal" font-style="normal" >1</text>
<text x="396.00" y="318.20" font-family='"Liberation Sans", sans-serif' font-size="11.3" text-anchor="end" font-weight="normal" font-style="normal" >0.75</text>
<text x="396.00" y="335.00" font-family='"Liberation Sans", sans-serif' font-size="11.3" text-anchor="end" font-weight="normal" font-style="normal" >0.5</text>
<text x="52.70" y="342.80" font-family='"Liberation Sans", sans-serif' font-size="11.3" text-anchor="middle" font-weight="normal" font-style="normal" >0</text>
<text x="80.32" y="342.80" font-family='"Liberation Sans", sans-serif' font-size="11.3" text-anchor="middle" font-weight="normal" font-style="normal" >0.1</text>
<text x="107.94" y="342.80" font-family='"Liberation Sans", sans-serif' font-size="11.3" text-anchor="middle" font-weight="normal" font-style="normal" >0.2</text>
<text x="135.56" y="342.80" font-family='"Liberation Sans", sans-serif' font-size="11.3" text-anchor="middle" font-weight="normal" font-style="normal" >0.3</text>
<text x="163.18" y="342.80" font-family='"Liberation Sans", sans-serif' font-size="11.3" text-anchor="middle" font-weight="normal" font-style="normal" >0.4</text>
<text x="190.80" y="342.80" font-family='"Liberation Sans", sans-serif' font-size="11.3" text-anchor="middle" font-weight="normal" font-style="normal" >0.5</text>
<text x="218.42" y="342.80" font-family='"Liberation Sans", sans-serif' font-size="11.3" text-anchor="middle" font-weight="normal" font-style="normal" >0.6</text>
<text x="246.04" y="342.80" font-family='"Liberation Sans", sans-serif' font-size="11.3" text-anchor="middle" font-weight="normal" font-style="normal" >0.7</text>
<text x="273.66" y="342.80" font-family='"Liberation Sans", sans-serif' font-size="11.3" text-anchor="middle" font-weight="normal" font-style="normal" >0.8</text>
<text x="301.28" y="342.80" font-family='"Liberation Sans", sans-serif' font-size="11.3" text-anchor="middle" font-weight="normal" font-style="normal" >0.9</text>
<text x="328.90" y="342.80" font-family='"Liberation Sans", sans-serif' font-size="11.3" text-anchor="middle" font-weight="normal" font-style="normal" >1</text>
<text x="402.60" y="342.80" font-family='"Liberation Sans", sans-serif' font-size="11.3" text-anchor="middle" font-weight="normal" font-style="normal" >0</text>
<text x="430.21" y="342.80" font-family='"Liberation Sans", sans-serif' font-size="11.3" text-anchor="middle" font-weight="normal" font-style="normal" >0.1</text>
<text x="457.82" y="342.80" font-family='"Liberation Sans", sans-serif' font-size="11.3" text-anchor="middle" font-weight="normal" font-style="normal" >0.2</text>
<text x="485.43" y="342.80" font-family='"Liberation Sans", sans-serif' font-size="11.3" text-anchor="middle" font-weight="normal" font-style="normal" >0.3</text>
<text x="513.04" y="342.80" font-family='"Liberation Sans", sans-serif' font-size="11.3" text-anchor="middle" font-weight="normal" font-style="normal" >0.4</text>
<text x="540.65" y="342.80" font-family='"Liberation Sans", sans-serif' font-size="11.3" text-anchor="middle" font-weight="normal" font-style="normal" >0.5</text>
<text x="568.26" y="342.80" font-family='"Liberation Sans", sans-serif' font-size="11.3" text-anchor="middle" font-weight="normal" font-style="normal" >0.6</text>
<text x="595.87" y="342.80" font-family='"Liberation Sans", sans-serif' font-size="11.3" text-anchor="middle" font-weight="normal" font-style="normal" >0.7</text>
<text x="623.48" y="342.80" font-family='"Liberation Sans", sans-serif' font-size="11.3" text-anchor="middle" font-weight="normal" font-style="normal" >0.8</text>
<text x="651.09" y="342.80" font-family='"Liberation Sans", sans-serif' font-size="11.3" text-anchor="middle" font-weight="normal" font-style="normal" >0.9</text>
<text x="678.70" y="342.80" font-family='"Liberation Sans", sans-serif' font-size="11.3" text-anchor="middle" font-weight="normal" font-style="normal" >1</text>
<text x="334.70" y="362.30" font-family='"Liberation Sans", sans-serif' font-size="13" text-anchor="end" font-weight="normal" font-style="normal" >Event-level discriminator</text>
<text x="684.20" y="362.30" font-family='"Liberation Sans", sans-serif' font-size="13" text-anchor="end" font-weight="normal" font-style="normal" >Event-level discriminator</text>
<text transform="translate(10.9,2.5) rotate(-90)" font-family='"Liberation Sans", sans-serif' font-size="12.6" text-anchor="end">Events / 0.01</text>
<text transform="translate(365.6,3.6) rotate(-90)" font-family='"Liberation Sans", sans-serif' font-size="12.75" text-anchor="end">Events / 0.17</text>
<text transform="translate(11.0,337.4) rotate(-90)" font-family='"Liberation Sans", sans-serif' font-size="13.1" text-anchor="start">Data / Pred.</text>
<text transform="translate(365.8,337.7) rotate(-90)" font-family='"Liberation Sans", sans-serif' font-size="13.1" text-anchor="start">Data / Pred.</text>
<text x="176.90" y="378.40" font-family='"Liberation Serif", serif' font-size="16.5" text-anchor="middle" font-weight="bold" font-style="normal" >(a)</text>
<text x="526.40" y="378.40" font-family='"Liberation Serif", serif' font-size="16.5" text-anchor="middle" font-weight="bold" font-style="normal" >(b)</text>
<text x="67.00" y="24.10" font-family='"Liberation Sans", sans-serif' font-size="11.75" text-anchor="start" font-weight="bold" font-style="italic" >ATLAS</text>
<path d="M68.60,33.6 L70.00,39.4" stroke="#000" stroke-width="1.6" fill="none"/>
<path d="M69.80,39.4 L71.30,29.7 L77.90,29.7" stroke="#000" stroke-width="0.9" fill="none"/>
<text x="72.40" y="39.40" font-family='"Liberation Sans", sans-serif' font-size="11.7" text-anchor="start" font-weight="normal" font-style="normal" >s <tspan dy="1.2">=</tspan><tspan dy="-1.2"> 13 TeV, 36.1</tspan></text>
<text x="163.20" y="39.40" font-family='"Liberation Sans", sans-serif' font-size="11.5" text-anchor="start" font-weight="normal" font-style="normal" >fb</text>
<text x="172.60" y="33.60" font-family='"Liberation Sans", sans-serif' font-size="6.6" text-anchor="start" font-weight="normal" font-style="normal" >-1</text>
<text x="66.40" y="54.70" font-family='"Liberation Sans", sans-serif' font-size="11.5" text-anchor="start" font-weight="normal" font-style="normal" >Single-lepton</text>
<text x="66.40" y="86.00" font-family='"Liberation Sans", sans-serif' font-size="11.5" text-anchor="start" font-weight="normal" font-style="normal" >Post-fit</text>
<text x="416.60" y="24.10" font-family='"Liberation Sans", sans-serif' font-size="11.75" text-anchor="start" font-weight="bold" font-style="italic" >ATLAS</text>
<path d="M418.20,33.6 L419.60,39.4" stroke="#000" stroke-width="1.6" fill="none"/>
<path d="M419.40,39.4 L420.90,29.7 L427.50,29.7" stroke="#000" stroke-width="0.9" fill="none"/>
<text x="422.00" y="39.40" font-family='"Liberation Sans", sans-serif' font-size="11.7" text-anchor="start" font-weight="normal" font-style="normal" >s <tspan dy="1.2">=</tspan><tspan dy="-1.2"> 13 TeV, 36.1</tspan></text>
<text x="512.80" y="39.40" font-family='"Liberation Sans", sans-serif' font-size="11.5" text-anchor="start" font-weight="normal" font-style="normal" >fb</text>
<text x="522.20" y="33.60" font-family='"Liberation Sans", sans-serif' font-size="6.6" text-anchor="start" font-weight="normal" font-style="normal" >-1</text>
<text x="416.00" y="54.70" font-family='"Liberation Sans", sans-serif' font-size="11.5" text-anchor="start" font-weight="normal" font-style="normal" >Dilepton</text>
<text x="416.00" y="86.00" font-family='"Liberation Sans", sans-serif' font-size="11.5" text-anchor="start" font-weight="normal" font-style="normal" >Post-fit</text>
<line x1="187.20" y1="12.20" x2="187.20" y2="21.40" stroke="#000" stroke-width="1" />
<circle cx="187.20" cy="16.80" r="3.1" fill="#000"/>
<text x="195.40" y="20.00" font-family='"Liberation Sans", sans-serif' font-size="9.1" text-anchor="start" font-weight="normal" font-style="normal" >Data</text>
<rect x="181.60" y="26.70" width="11.2" height="10.6" fill="#cc66ff" stroke="#222" stroke-width="0.9"/>
<text x="195.40" y="35.20" font-family='"Liberation Sans", sans-serif' font-size="9.1" text-anchor="start" font-weight="normal" font-style="normal" >Had-fake</text>
<rect x="181.60" y="42.10" width="11.2" height="10.6" fill="#ccffff" stroke="#222" stroke-width="0.9"/>
<text x="195.40" y="50.60" font-family='"Liberation Sans", sans-serif' font-size="9.1" text-anchor="start" font-weight="normal" font-style="normal" >Fake lepton</text>
<rect x="181.60" y="57.30" width="11.2" height="10.6" fill="#59d454" stroke="#222" stroke-width="0.9"/>
<text x="195.40" y="65.80" font-family='"Liberation Sans", sans-serif' font-size="9.1" text-anchor="start" font-weight="normal" font-style="normal" >Other prompt</text>
<rect x="259.20" y="11.50" width="11.2" height="10.6" fill="#ff0000" stroke="#ff0000" stroke-width="0.9"/>
<text x="273.00" y="20.00" font-family='"Liberation Sans", sans-serif' font-size="9.1" text-anchor="start" font-weight="normal" font-style="normal" >tt&#947;</text>
<line x1="275.60" y1="13.00" x2="278.00" y2="13.00" stroke="#000" stroke-width="0.7" />
<rect x="259.20" y="26.70" width="11.2" height="10.6" fill="#660066" stroke="#222" stroke-width="0.9"/>
<text x="273.00" y="35.20" font-family='"Liberation Sans", sans-serif' font-size="9.1" text-anchor="start" font-weight="normal" font-style="normal" >e-fake</text>
<rect x="259.20" y="42.10" width="11.2" height="10.6" fill="#ffff00" stroke="#222" stroke-width="0.9"/>
<text x="273.00" y="50.60" font-family='"Liberation Sans", sans-serif' font-size="9.1" text-anchor="start" font-weight="normal" font-style="normal" >W&#947;</text>
<rect x="259.20" y="56.80" width="11.5" height="11.6" fill="url(#hatchLeg)"/>
<text x="273.00" y="65.80" font-family='"Liberation Sans", sans-serif' font-size="9.1" text-anchor="start" font-weight="normal" font-style="normal" >Uncertainty</text>
<line x1="537.00" y1="12.20" x2="537.00" y2="21.40" stroke="#000" stroke-width="1" />
<circle cx="537.00" cy="16.80" r="3.1" fill="#000"/>
<text x="545.20" y="20.00" font-family='"Liberation Sans", sans-serif' font-size="9.1" text-anchor="start" font-weight="normal" font-style="normal" >Data</text>
<rect x="531.40" y="26.70" width="11.2" height="10.6" fill="#cc66ff" stroke="#222" stroke-width="0.9"/>
<text x="545.20" y="35.20" font-family='"Liberation Sans", sans-serif' font-size="9.1" text-anchor="start" font-weight="normal" font-style="normal" >Had-fake</text>
<rect x="531.40" y="42.10" width="11.2" height="10.6" fill="#0000ff" stroke="#222" stroke-width="0.9"/>
<text x="545.20" y="50.60" font-family='"Liberation Sans", sans-serif' font-size="9.1" text-anchor="start" font-weight="normal" font-style="normal" >Z&#947;</text>
<rect x="531.40" y="56.80" width="11.5" height="11.6" fill="url(#hatchLeg)"/>
<text x="545.20" y="65.80" font-family='"Liberation Sans", sans-serif' font-size="9.1" text-anchor="start" font-weight="normal" font-style="normal" >Uncertainty</text>
<rect x="600.20" y="11.50" width="11.2" height="10.6" fill="#ff0000" stroke="#ff0000" stroke-width="0.9"/>
<text x="613.80" y="20.00" font-family='"Liberation Sans", sans-serif' font-size="9.1" text-anchor="start" font-weight="normal" font-style="normal" >tt&#947;</text>
<line x1="616.40" y1="13.00" x2="618.80" y2="13.00" stroke="#000" stroke-width="0.7" />
<rect x="600.20" y="26.70" width="11.2" height="10.6" fill="#660066" stroke="#222" stroke-width="0.9"/>
<text x="613.80" y="35.20" font-family='"Liberation Sans", sans-serif' font-size="9.1" text-anchor="start" font-weight="normal" font-style="normal" >e-fake</text>
<rect x="600.20" y="42.10" width="11.2" height="10.6" fill="#59d454" stroke="#222" stroke-width="0.9"/>
<text x="613.80" y="50.60" font-family='"Liberation Sans", sans-serif' font-size="9.1" text-anchor="start" font-weight="normal" font-style="normal" >Other prompt</text>
</svg>
</body></html>
